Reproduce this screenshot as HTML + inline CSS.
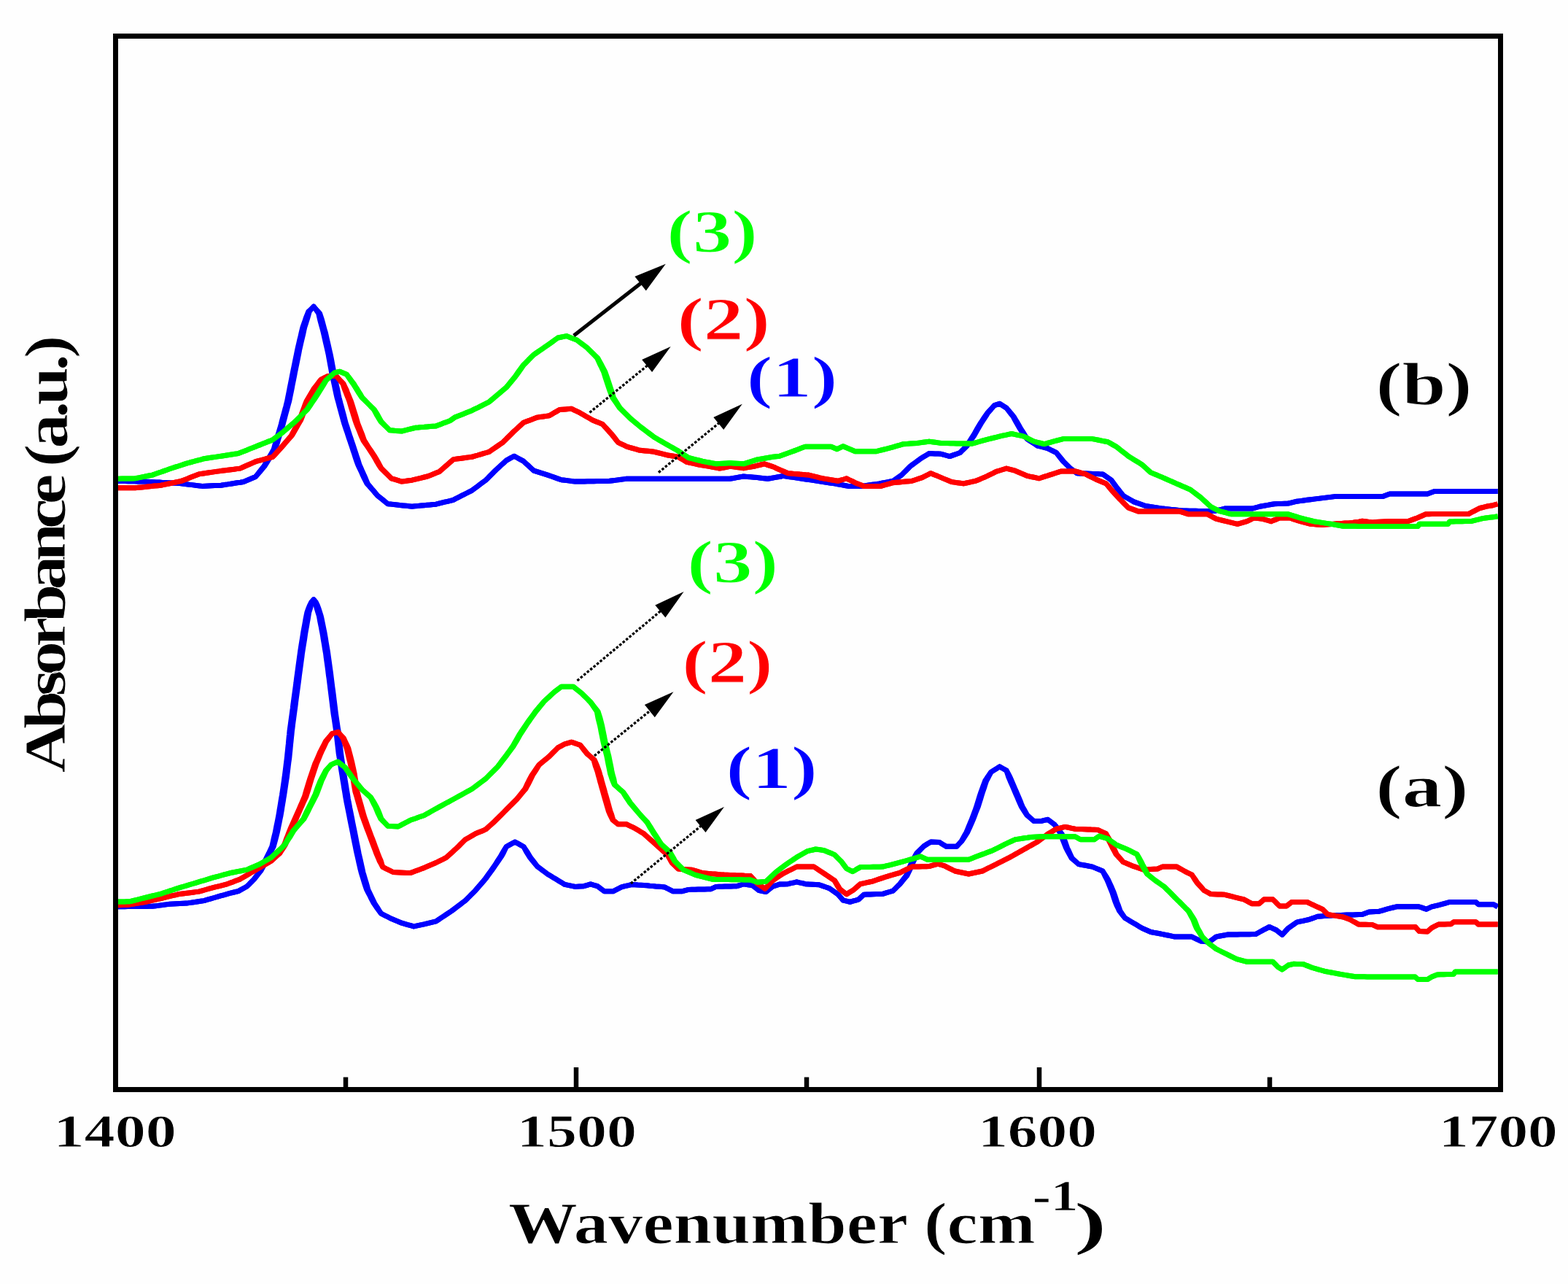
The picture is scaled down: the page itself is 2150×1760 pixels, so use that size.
<!DOCTYPE html>
<html lang="en"><head><meta charset="utf-8"><title>Absorbance vs Wavenumber</title>
<style>html,body{margin:0;padding:0;background:#fefefe}svg{display:block}</style></head>
<body>
<svg width="2150" height="1760" viewBox="0 0 2150 1760" font-family="'Liberation Serif', 'DejaVu Serif', serif" font-weight="bold">
<rect width="2150" height="1760" fill="#fefefe"/>
<clipPath id="c"><rect x="158.5" y="53" width="1895.5" height="1437"/></clipPath>
<g clip-path="url(#c)" fill="none" stroke-width="7" stroke-linejoin="round">
<g stroke="#0000ff"><polyline points="158.3,659.3 162.6,659.4 166.9,659.5 171.2,659.6 175.5,659.7 179.9,659.7 184.2,659.8 188.5,659.9 192.8,660.0 197.1,660.1 201.4,660.3 205.7,660.5 210.0,660.7 214.3,660.9 218.6,661.1 222.8,661.4 227.1,661.6 231.4,661.8 235.7,662.0 240.0,662.2 244.3,662.4 248.4,662.9 252.5,663.4 256.7,663.9 260.8,664.4 264.9,664.9 269.0,665.4 273.2,665.9 277.3,666.4 281.6,666.2 285.9,666.0 290.2,665.8 294.6,665.6 298.9,665.4 303.2,665.2 307.6,664.5 312.0,663.9 316.4,663.2 320.7,662.5 325.1,661.8 329.5,661.2 333.9,660.5 338.0,658.8 342.1,657.0 346.2,655.2 350.3,653.5 353.2,650.0 355.9,646.4 358.8,642.8 361.7,639.3 363.9,635.4 366.2,631.4 368.5,627.5 370.9,623.6 373.1,619.6 375.3,615.7 376.3,611.9 377.3,608.1 378.5,604.2 379.7,600.4 380.8,596.6 382.0,592.8 383.2,588.9 384.3,585.1 385.4,581.2 386.4,577.2 387.4,573.3 388.5,569.4 389.6,565.4 390.6,561.5 391.7,557.6 392.7,553.6 393.7,549.7 394.5,545.3 395.4,540.9 396.3,536.5 397.1,532.0 398.0,527.6 398.9,523.2 399.8,518.8 400.6,514.4 401.4,510.5 402.2,506.5 403.0,502.6 403.8,498.7 404.6,494.7 405.4,490.8 406.2,486.9 407.0,482.9 407.8,479.0 408.8,474.6 409.8,470.3 410.8,465.9 411.9,461.5 412.9,457.1 413.9,452.8 415.0,448.4 416.5,444.1 418.0,439.9 419.4,435.6 421.1,431.4 422.8,427.1 426.7,423.6 430.1,420.1 432.6,423.2 434.5,426.4 436.7,429.5 437.6,433.8 438.6,438.1 439.7,442.4 440.9,446.8 442.1,451.1 443.2,455.4 444.2,459.8 445.2,464.2 446.2,468.6 447.2,472.9 448.2,477.3 449.2,481.7 450.2,486.1 450.9,490.4 451.7,494.7 452.5,499.1 453.3,503.4 454.1,507.7 454.9,512.0 455.8,516.1 456.7,520.2 457.6,524.4 458.5,528.5 459.3,532.6 460.2,536.8 461.1,540.9 462.0,545.0 463.1,548.9 464.2,552.9 465.2,556.8 466.3,560.7 467.4,564.7 468.4,568.6 469.5,572.5 470.6,576.5 471.7,580.4 473.0,584.4 474.4,588.5 475.8,592.5 477.1,596.6 478.4,600.6 479.8,604.7 481.1,608.7 482.5,612.7 483.8,616.8 485.2,620.8 486.5,624.9 487.8,628.9 489.2,633.0 490.7,637.0 492.4,640.7 494.2,644.4 495.9,648.1 497.5,651.8 499.2,655.5 501.1,659.2 503.0,662.9 506.0,666.2 508.9,669.5 511.8,672.8 514.7,676.1 517.6,679.4 521.2,682.2 524.7,685.0 528.3,687.9 531.9,690.7 536.0,691.1 540.1,691.6 544.3,692.0 548.4,692.5 552.5,692.9 556.6,693.3 560.8,693.8 564.9,694.2 569.0,693.8 573.1,693.5 577.3,693.1 581.4,692.7 585.5,692.3 589.6,692.0 593.8,691.6 597.9,691.2 601.8,690.2 605.8,689.2 609.7,688.2 613.6,687.3 617.6,686.3 621.5,685.3 625.1,683.4 628.8,681.6 632.5,679.7 636.1,677.9 639.8,676.0 643.4,674.2 647.1,672.3 650.8,669.5 654.6,666.7 658.4,663.8 662.1,661.0 665.9,658.2 668.7,655.4 671.5,652.5 674.3,649.7 677.2,646.8 680.0,644.0 683.5,640.8 687.1,637.5 690.7,634.3 694.2,631.1 697.8,629.1 701.4,627.2 704.9,625.2 709.2,627.5 713.5,629.9 717.8,632.2 721.3,635.5 724.8,638.7 728.4,642.0 732.0,645.2 736.7,646.7 741.4,648.2 746.2,649.6 750.9,651.1 755.6,652.8 760.3,654.4 765.0,656.1 769.7,657.7 774.4,658.3 779.1,658.9 783.9,659.5 788.6,660.1 792.9,660.0 797.2,660.0 801.4,659.9 805.7,659.8 810.0,659.7 814.3,659.7 818.6,659.6 822.9,659.5 827.1,659.4 831.4,659.4 835.7,659.3 840.4,658.7 845.1,658.1 849.9,657.5 854.6,656.9 859.3,656.3 863.3,656.3 867.4,656.3 871.4,656.3 875.5,656.3 879.5,656.3 883.6,656.3 887.6,656.3 891.6,656.3 895.7,656.3 899.7,656.3 903.8,656.3 907.8,656.3 911.9,656.3 915.9,656.3 919.9,656.3 924.0,656.3 928.0,656.3 932.1,656.3 936.1,656.3 940.2,656.3 944.2,656.3 948.2,656.3 952.3,656.3 956.3,656.3 960.4,656.3 964.4,656.3 968.5,656.3 972.5,656.3 976.5,656.3 980.6,656.3 984.6,656.3 988.7,656.3 992.7,656.3 996.8,656.3 1000.8,656.3 1005.5,655.5 1010.2,654.6 1014.9,653.8 1019.6,653.0 1024.3,653.4 1029.0,653.8 1033.8,654.2 1038.5,654.6 1043.2,655.2 1047.9,655.7 1052.6,656.3 1057.3,655.5 1062.0,654.6 1066.8,653.8 1071.5,653.0 1073.6,652.3 1078.3,653.0 1083.0,653.7 1087.7,654.4 1092.4,655.1 1097.1,655.8 1101.8,656.5 1106.5,657.2 1111.3,657.9 1116.0,658.6 1120.7,659.3 1125.4,660.0 1130.1,660.7 1134.9,661.5 1139.6,662.2 1144.3,662.9 1149.0,663.8 1153.7,664.6 1158.5,665.5 1163.2,666.4 1167.9,666.4 1172.6,666.4 1177.3,666.4 1182.0,666.4 1186.7,665.7 1191.4,665.0 1196.2,664.3 1200.9,663.6 1205.6,662.9 1210.3,662.0 1215.0,661.1 1219.7,660.2 1224.4,659.3 1228.3,656.6 1232.2,653.8 1236.1,651.1 1239.0,648.1 1241.9,645.2 1244.9,642.2 1247.9,639.3 1251.4,636.6 1255.0,634.0 1258.6,631.4 1262.1,628.7 1266.1,626.3 1270.1,624.0 1274.0,621.6 1278.1,621.8 1282.2,622.0 1286.4,622.1 1290.5,622.3 1294.4,623.4 1298.3,624.5 1302.2,625.6 1306.9,623.9 1311.7,622.2 1316.4,620.5 1319.4,617.3 1322.4,614.2 1325.4,611.0 1327.7,607.5 1329.9,604.0 1332.2,600.4 1334.5,596.9 1336.9,592.8 1339.2,588.6 1341.6,584.5 1344.0,580.4 1346.4,576.9 1348.8,573.3 1351.2,569.8 1353.7,566.2 1356.9,562.7 1360.3,559.1 1363.5,555.6 1370.6,553.3 1375.3,556.2 1379.9,559.2 1382.9,563.1 1385.9,567.0 1389.0,570.9 1391.2,575.0 1393.4,579.1 1395.8,583.3 1398.2,587.4 1400.6,591.0 1403.0,594.5 1405.6,598.0 1408.1,601.6 1411.7,604.0 1415.4,606.3 1418.9,608.6 1422.5,611.0 1427.2,612.2 1431.9,613.4 1436.6,614.6 1440.5,616.6 1444.4,618.5 1448.3,620.5 1451.3,624.4 1454.3,628.3 1457.5,632.2 1460.7,635.4 1464.0,638.5 1467.2,641.7 1472.0,645.2 1476.7,648.7 1481.1,648.9 1485.5,649.0 1489.9,649.1 1494.3,649.3 1498.8,649.5 1503.2,649.6 1507.6,649.8 1512.0,649.9 1515.9,652.7 1519.7,655.4 1523.6,658.2 1526.9,662.9 1530.2,667.6 1533.3,671.5 1536.7,675.5 1539.9,679.4 1543.5,681.5 1547.1,683.5 1550.7,685.5 1554.2,687.6 1558.3,689.1 1562.4,690.5 1566.6,692.0 1570.7,693.5 1575.4,694.2 1580.1,694.9 1584.9,695.7 1589.6,696.4 1594.3,697.1 1598.3,697.5 1602.4,698.0 1606.4,698.4 1610.5,698.8 1614.5,699.2 1618.6,699.7 1622.6,700.1 1626.8,700.1 1631.1,700.2 1635.3,700.2 1639.6,700.3 1643.8,700.4 1648.0,700.4 1652.3,700.5 1656.5,700.5 1660.8,700.6 1665.0,700.6 1669.7,699.4 1674.5,698.3 1679.2,697.1 1683.4,697.1 1687.6,697.1 1691.8,697.1 1696.0,697.1 1700.1,697.1 1704.3,697.1 1708.5,697.1 1712.7,697.1 1716.9,697.1 1720.8,696.1 1724.8,695.0 1728.7,694.0 1733.4,693.2 1738.1,692.4 1742.8,691.5 1747.5,690.7 1752.2,690.5 1756.9,690.4 1761.7,690.2 1766.4,690.0 1770.3,689.1 1774.3,688.1 1778.2,687.2 1782.9,686.6 1787.6,686.0 1792.3,685.3 1797.0,684.7 1801.7,684.1 1805.7,683.6 1809.8,683.1 1813.8,682.6 1817.9,682.1 1821.9,681.6 1826.0,681.1 1830.0,680.6 1834.1,680.6 1838.2,680.6 1842.4,680.6 1846.5,680.6 1850.6,680.6 1854.8,680.6 1858.9,680.6 1863.0,680.6 1867.1,680.6 1871.2,680.6 1875.4,680.6 1879.5,680.6 1883.6,680.6 1887.8,680.6 1891.9,680.6 1896.0,680.6 1900.7,678.8 1905.5,677.0 1909.8,677.0 1914.1,677.0 1918.5,677.0 1922.8,677.0 1927.1,677.0 1931.4,677.0 1935.7,677.0 1940.0,677.0 1944.3,677.0 1948.7,677.0 1953.0,677.0 1957.3,677.0 1962.0,675.2 1966.8,673.5 1970.9,673.5 1975.1,673.5 1979.2,673.5 1983.3,673.5 1987.5,673.5 1991.6,673.5 1995.7,673.5 1999.9,673.5 2004.0,673.5 2008.1,673.5 2012.3,673.5 2016.4,673.5 2020.5,673.5 2024.7,673.5 2028.8,673.5 2032.9,673.5 2037.1,673.5 2041.2,673.5 2045.3,673.5 2049.5,673.5 2053.6,673.5"/><polyline points="158.3,659.3 162.6,659.4 166.9,659.5 171.2,659.6 175.5,659.7 179.9,659.7 184.2,659.8 188.5,659.9 192.8,660.0 197.1,660.1 201.4,660.3 205.7,660.5 210.0,660.7 214.3,660.9 218.6,661.1 222.8,661.4 227.1,661.6 231.4,661.8 235.7,662.0 240.0,662.2 244.3,662.4 248.4,662.9 252.6,663.4 256.7,663.9 260.8,664.4 264.9,664.9 269.1,665.4 273.2,665.9 277.3,666.4 281.6,666.2 285.9,666.0 290.3,665.8 294.6,665.6 298.9,665.4 303.2,665.2 307.6,664.5 312.0,663.9 316.4,663.2 320.7,662.5 325.1,661.8 329.5,661.2 333.9,660.5 338.0,658.8 342.2,657.0 346.3,655.2 350.5,653.5 353.5,650.0 356.7,646.4 359.7,642.8 362.7,639.3 365.2,635.4 367.6,631.4 370.0,627.5 372.3,623.6 374.8,619.6 377.3,615.7 378.6,611.9 380.0,608.1 381.2,604.2 382.3,600.4 383.5,596.6 384.7,592.8 385.9,588.9 387.1,585.1 388.2,581.2 389.2,577.2 390.3,573.3 391.3,569.4 392.4,565.4 393.5,561.5 394.5,557.6 395.6,553.6 396.7,549.7 397.6,545.3 398.5,540.9 399.4,536.5 400.3,532.0 401.1,527.6 402.0,523.2 402.9,518.8 403.8,514.4 404.5,510.5 405.3,506.5 406.1,502.6 406.9,498.7 407.7,494.7 408.5,490.8 409.3,486.9 410.1,482.9 410.8,479.0 411.8,474.6 412.8,470.3 413.8,465.9 414.9,461.5 415.9,457.1 416.8,452.8 417.8,448.4 419.2,444.1 420.5,439.9 421.9,435.6 423.1,431.4 424.2,427.1 426.9,423.6 430.1,420.1 432.6,423.2 435.7,426.4 438.5,429.5 440.0,433.8 441.4,438.1 442.6,442.4 443.7,446.8 444.9,451.1 446.2,455.4 447.2,459.8 448.2,464.2 449.2,468.6 450.2,472.9 451.2,477.3 452.2,481.7 453.2,486.1 454.1,490.4 454.9,494.7 455.7,499.1 456.5,503.4 457.3,507.7 458.1,512.0 458.9,516.1 459.8,520.2 460.7,524.4 461.5,528.5 462.4,532.6 463.3,536.8 464.1,540.9 465.0,545.0 466.0,548.9 467.0,552.9 468.1,556.8 469.1,560.7 470.2,564.7 471.3,568.6 472.3,572.5 473.3,576.5 474.3,580.4 475.7,584.4 477.0,588.5 478.3,592.5 479.6,596.6 481.0,600.6 482.3,604.7 483.7,608.7 485.0,612.7 486.4,616.8 487.7,620.8 489.0,624.9 490.4,628.9 491.7,633.0 492.9,637.0 494.6,640.7 496.2,644.4 497.9,648.1 499.5,651.8 501.2,655.5 502.7,659.2 504.2,662.9 506.9,666.2 509.6,669.5 512.5,672.8 515.2,676.1 518.0,679.4 521.5,682.2 525.0,685.0 528.4,687.9 531.9,690.7 536.0,691.1 540.2,691.6 544.3,692.0 548.4,692.5 552.5,692.9 556.7,693.3 560.8,693.8 564.9,694.2 569.0,693.8 573.2,693.5 577.3,693.1 581.4,692.7 585.5,692.3 589.7,692.0 593.8,691.6 597.9,691.2 601.8,690.2 605.8,689.2 609.7,688.2 613.6,687.3 617.6,686.3 621.5,685.3 625.2,683.4 628.8,681.6 632.5,679.7 636.1,677.9 639.8,676.0 643.5,674.2 647.1,672.3 650.9,669.5 654.7,666.7 658.5,663.8 662.3,661.0 666.1,658.2 669.0,655.4 671.9,652.5 674.7,649.7 677.6,646.8 680.4,644.0 683.9,640.8 687.4,637.5 690.9,634.3 694.4,631.1 697.9,629.1 701.4,627.2 704.9,625.2 709.2,627.5 713.6,629.9 718.0,632.2 721.5,635.5 725.1,638.7 728.5,642.0 732.0,645.2 736.7,646.7 741.5,648.2 746.2,649.6 750.9,651.1 755.6,652.8 760.3,654.4 765.0,656.1 769.7,657.7 774.4,658.3 779.2,658.9 783.9,659.5 788.6,660.1 792.9,660.0 797.2,660.0 801.4,659.9 805.7,659.8 810.0,659.7 814.3,659.7 818.6,659.6 822.9,659.5 827.1,659.4 831.4,659.4 835.7,659.3 840.4,658.7 845.1,658.1 849.9,657.5 854.6,656.9 859.3,656.3 863.3,656.3 867.4,656.3 871.4,656.3 875.5,656.3 879.5,656.3 883.6,656.3 887.6,656.3 891.6,656.3 895.7,656.3 899.7,656.3 903.8,656.3 907.8,656.3 911.9,656.3 915.9,656.3 919.9,656.3 924.0,656.3 928.0,656.3 932.1,656.3 936.1,656.3 940.2,656.3 944.2,656.3 948.2,656.3 952.3,656.3 956.3,656.3 960.4,656.3 964.4,656.3 968.5,656.3 972.5,656.3 976.5,656.3 980.6,656.3 984.6,656.3 988.7,656.3 992.7,656.3 996.8,656.3 1000.8,656.3 1005.5,655.5 1010.2,654.6 1014.9,653.8 1019.6,653.0 1024.3,653.4 1029.1,653.8 1033.8,654.2 1038.5,654.6 1043.2,655.2 1047.9,655.7 1052.6,656.3 1057.3,655.5 1062.1,654.6 1066.8,653.8 1071.5,653.0 1073.6,652.3 1078.3,653.0 1083.0,653.7 1087.7,654.4 1092.4,655.1 1097.1,655.8 1101.8,656.5 1106.5,657.2 1111.3,657.9 1116.0,658.6 1120.7,659.3 1125.4,660.0 1130.1,660.7 1134.9,661.5 1139.6,662.2 1144.3,662.9 1149.0,663.8 1153.8,664.6 1158.5,665.5 1163.2,666.4 1167.9,666.4 1172.6,666.4 1177.3,666.4 1182.0,666.4 1186.7,665.7 1191.4,665.0 1196.2,664.3 1200.9,663.6 1205.6,662.9 1210.3,662.0 1215.0,661.1 1219.7,660.2 1224.4,659.3 1228.4,656.6 1232.4,653.8 1236.3,651.1 1239.3,648.1 1242.3,645.2 1245.2,642.2 1248.1,639.3 1251.7,636.6 1255.2,634.0 1258.7,631.4 1262.3,628.7 1266.2,626.3 1270.1,624.0 1274.0,621.6 1278.1,621.8 1282.3,622.0 1286.4,622.1 1290.5,622.3 1294.4,623.4 1298.3,624.5 1302.2,625.6 1306.9,623.9 1311.7,622.2 1316.4,620.5 1319.6,617.3 1323.0,614.2 1326.2,611.0 1328.6,607.5 1331.1,604.0 1333.5,600.4 1335.9,596.9 1338.3,592.8 1340.7,588.6 1343.0,584.5 1345.4,580.4 1347.7,576.9 1350.0,573.3 1352.3,569.8 1354.5,566.2 1357.6,562.7 1360.5,559.1 1363.5,555.6 1370.6,553.3 1375.3,556.2 1380.1,559.2 1383.4,563.1 1386.8,567.0 1390.0,570.9 1392.5,575.0 1395.0,579.1 1397.3,583.3 1399.6,587.4 1401.9,591.0 1404.2,594.5 1406.3,598.0 1408.5,601.6 1412.0,604.0 1415.4,606.3 1419.0,608.6 1422.5,611.0 1427.2,612.2 1431.9,613.4 1436.6,614.6 1440.5,616.6 1444.5,618.5 1448.5,620.5 1451.8,624.4 1455.0,628.3 1458.1,632.2 1461.2,635.4 1464.3,638.5 1467.4,641.7 1472.0,645.2 1476.7,648.7 1481.1,648.9 1485.5,649.0 1489.9,649.1 1494.4,649.3 1498.8,649.5 1503.2,649.6 1507.6,649.8 1512.0,649.9 1516.0,652.7 1520.0,655.4 1524.0,658.2 1527.5,662.9 1531.0,667.6 1534.2,671.5 1537.2,675.5 1540.3,679.4 1543.7,681.5 1547.2,683.5 1550.7,685.5 1554.2,687.6 1558.3,689.1 1562.5,690.5 1566.6,692.0 1570.7,693.5 1575.4,694.2 1580.1,694.9 1584.9,695.7 1589.6,696.4 1594.3,697.1 1598.3,697.5 1602.4,698.0 1606.4,698.4 1610.5,698.8 1614.5,699.2 1618.6,699.7 1622.6,700.1 1626.8,700.1 1631.1,700.2 1635.3,700.2 1639.6,700.3 1643.8,700.4 1648.0,700.4 1652.3,700.5 1656.5,700.5 1660.8,700.6 1665.0,700.6 1669.7,699.4 1674.5,698.3 1679.2,697.1 1683.4,697.1 1687.6,697.1 1691.8,697.1 1696.0,697.1 1700.1,697.1 1704.3,697.1 1708.5,697.1 1712.7,697.1 1716.9,697.1 1720.8,696.1 1724.8,695.0 1728.7,694.0 1733.4,693.2 1738.1,692.4 1742.8,691.5 1747.5,690.7 1752.2,690.5 1757.0,690.4 1761.7,690.2 1766.4,690.0 1770.3,689.1 1774.3,688.1 1778.2,687.2 1782.9,686.6 1787.6,686.0 1792.3,685.3 1797.0,684.7 1801.7,684.1 1805.7,683.6 1809.8,683.1 1813.8,682.6 1817.9,682.1 1821.9,681.6 1826.0,681.1 1830.0,680.6 1834.1,680.6 1838.2,680.6 1842.4,680.6 1846.5,680.6 1850.6,680.6 1854.8,680.6 1858.9,680.6 1863.0,680.6 1867.1,680.6 1871.2,680.6 1875.4,680.6 1879.5,680.6 1883.6,680.6 1887.8,680.6 1891.9,680.6 1896.0,680.6 1900.8,678.8 1905.5,677.0 1909.8,677.0 1914.1,677.0 1918.5,677.0 1922.8,677.0 1927.1,677.0 1931.4,677.0 1935.7,677.0 1940.0,677.0 1944.3,677.0 1948.7,677.0 1953.0,677.0 1957.3,677.0 1962.1,675.2 1966.8,673.5 1970.9,673.5 1975.1,673.5 1979.2,673.5 1983.3,673.5 1987.5,673.5 1991.6,673.5 1995.7,673.5 1999.9,673.5 2004.0,673.5 2008.1,673.5 2012.3,673.5 2016.4,673.5 2020.5,673.5 2024.7,673.5 2028.8,673.5 2032.9,673.5 2037.1,673.5 2041.2,673.5 2045.3,673.5 2049.5,673.5 2053.6,673.5"/></g>
<g stroke="#ff0000"><polyline points="158.3,668.8 162.8,668.8 167.3,668.8 171.9,668.8 176.4,668.8 180.9,668.8 185.4,668.8 189.8,668.3 194.2,667.9 198.6,667.5 203.0,667.0 207.5,666.5 211.9,666.1 216.3,665.7 220.7,665.2 224.7,664.4 228.8,663.5 232.8,662.7 236.9,661.8 240.9,661.0 245.0,660.1 249.0,659.3 252.9,657.7 256.9,656.2 260.8,654.6 264.7,653.0 268.7,651.5 272.6,649.9 277.3,649.2 282.0,648.5 286.8,647.8 291.5,647.1 296.2,646.4 300.3,645.9 304.4,645.3 308.6,644.8 312.7,644.2 316.8,643.7 320.9,643.2 325.1,642.6 329.2,642.1 333.4,640.2 337.7,638.3 341.9,636.5 346.2,634.6 350.4,632.7 354.3,631.6 358.3,630.6 362.2,629.5 366.1,628.4 370.1,627.4 374.0,626.3 376.8,623.1 379.6,619.8 382.5,616.6 385.4,613.4 388.2,610.1 391.0,606.8 393.9,603.5 396.6,600.2 399.4,596.9 401.2,593.4 403.1,589.8 405.0,586.3 407.0,582.8 408.8,579.2 410.7,575.7 412.2,571.4 413.6,567.0 415.2,562.7 416.8,558.4 418.4,554.0 420.1,549.7 422.6,545.6 425.0,541.5 427.5,537.3 429.9,533.2 432.3,530.0 434.8,526.8 437.4,523.5 439.9,520.3 444.7,517.9 449.4,515.5 455.3,515.5 461.2,515.5 464.3,519.1 467.0,522.6 470.0,526.2 471.3,530.1 472.6,534.0 474.2,538.0 475.7,541.9 477.3,545.8 478.8,549.7 479.9,553.5 481.0,557.4 482.2,561.2 483.4,565.0 484.6,568.9 485.8,572.7 487.0,576.6 488.3,580.4 489.9,584.3 491.5,588.3 493.1,592.2 494.6,596.1 496.3,600.1 498.1,604.0 500.5,607.5 503.0,611.1 505.4,614.6 507.7,618.1 510.0,621.7 512.3,625.2 514.7,629.3 517.0,633.5 519.5,637.6 522.1,641.7 525.7,645.2 529.3,648.8 533.0,652.3 536.6,655.8 541.3,657.2 546.1,658.7 550.8,660.1 555.5,659.5 560.2,658.8 564.9,658.2 569.1,657.2 573.4,656.1 577.6,655.1 581.9,654.0 586.1,653.0 590.2,651.4 594.3,649.7 598.5,648.0 602.6,646.4 605.7,643.6 608.8,640.9 611.9,638.1 615.1,635.4 618.3,632.6 621.5,629.9 623.6,629.4 628.3,628.8 633.0,628.2 637.7,627.5 642.4,626.9 647.1,626.3 651.0,625.1 655.0,624.0 658.9,622.8 662.8,621.6 666.8,620.5 670.7,619.3 674.5,616.7 678.2,614.1 682.0,611.5 685.7,608.9 689.5,606.3 693.0,602.8 696.4,599.2 700.0,595.7 703.5,592.2 707.1,589.0 710.6,585.7 714.3,582.5 717.9,579.2 721.6,577.8 725.4,576.4 729.2,574.9 732.9,573.5 736.7,572.1 740.8,571.5 744.9,571.0 749.1,570.4 753.2,569.8 756.7,567.7 760.3,565.6 763.8,563.6 767.4,561.5 771.5,561.2 775.6,560.9 779.8,560.6 783.9,560.3 787.8,562.3 791.7,564.2 795.7,566.2 799.8,568.6 803.9,571.0 808.1,573.3 812.2,575.7 816.9,577.7 821.6,579.6 826.2,581.6 829.1,584.8 831.9,588.0 834.8,591.3 837.8,594.5 840.9,598.4 844.1,602.4 847.4,606.3 851.4,608.3 855.4,610.2 859.3,612.2 863.4,613.4 867.5,614.5 871.7,615.7 875.8,616.9 880.0,617.4 884.3,617.9 888.5,618.3 892.8,618.8 897.0,619.3 901.7,620.5 906.4,621.6 911.2,622.8 915.9,624.0 920.6,624.8 925.3,625.5 930.0,626.3 933.9,628.7 937.9,631.0 941.8,633.4 945.9,634.3 950.0,635.2 954.2,636.1 958.3,637.0 963.0,637.8 967.8,638.5 972.5,639.3 977.2,640.2 981.9,641.2 986.6,642.1 991.3,641.2 996.1,640.2 1000.8,639.3 1005.5,639.9 1010.2,640.5 1014.9,641.1 1019.6,641.7 1024.3,640.9 1029.1,640.1 1033.8,639.3 1038.5,638.1 1043.2,637.0 1047.9,635.8 1052.6,637.4 1057.3,638.9 1062.0,640.5 1064.1,641.7 1068.2,643.5 1072.3,645.2 1076.5,647.0 1080.6,648.7 1084.6,649.0 1088.7,649.4 1092.7,649.7 1096.8,650.1 1100.8,650.4 1104.9,650.8 1108.9,651.1 1113.0,652.1 1117.1,653.2 1121.3,654.2 1125.4,655.3 1130.1,656.1 1134.8,656.9 1139.6,657.7 1144.3,658.5 1149.0,659.3 1152.9,658.1 1156.9,657.0 1160.8,655.8 1164.7,657.8 1168.7,659.7 1172.6,661.7 1176.5,663.3 1180.5,664.8 1184.4,666.4 1189.1,666.4 1193.8,666.4 1198.5,666.4 1203.2,666.4 1207.9,666.4 1212.0,665.2 1216.1,664.0 1220.3,662.9 1224.4,661.7 1228.7,661.3 1233.1,660.9 1237.4,660.5 1241.7,660.1 1246.1,659.7 1250.4,659.3 1255.1,657.7 1259.8,656.2 1264.5,654.6 1268.4,652.6 1272.4,650.7 1276.3,648.7 1281.0,650.7 1285.8,652.6 1290.5,654.6 1295.2,656.6 1299.9,658.5 1304.6,660.5 1308.7,661.1 1312.8,661.7 1317.0,662.3 1321.1,662.9 1325.2,662.0 1329.3,661.1 1333.5,660.2 1337.6,659.3 1342.3,657.4 1347.0,655.4 1351.7,653.5 1356.4,651.1 1361.2,648.8 1365.9,646.4 1370.6,645.0 1375.3,643.5 1380.0,642.1 1383.9,643.1 1387.9,644.2 1391.8,645.2 1395.9,647.0 1400.0,648.8 1404.2,650.5 1408.3,652.3 1412.4,653.2 1416.5,654.0 1420.7,654.9 1424.8,655.8 1429.5,654.2 1434.3,652.7 1439.0,651.1 1443.1,649.8 1447.2,648.5 1451.4,647.2 1455.5,645.9 1460.2,645.9 1464.9,645.9 1469.6,645.9 1474.3,645.9 1479.0,647.2 1483.8,648.6 1488.5,649.9 1493.2,652.3 1497.9,654.6 1502.6,657.0 1507.3,659.0 1512.0,660.9 1516.7,662.9 1520.0,667.0 1523.3,671.1 1526.2,674.4 1529.2,677.6 1532.2,680.9 1535.1,684.1 1538.1,687.0 1541.0,690.0 1544.1,693.0 1547.1,695.9 1551.8,697.6 1556.6,699.4 1561.3,701.1 1565.3,701.1 1569.4,701.1 1573.4,701.1 1577.5,701.1 1581.5,701.1 1585.6,701.1 1589.6,701.1 1593.6,701.1 1597.7,701.1 1601.7,701.1 1605.8,701.1 1609.8,701.1 1613.9,701.1 1617.9,701.1 1621.8,702.3 1625.8,703.6 1629.7,704.8 1634.0,704.8 1638.3,704.8 1642.7,704.8 1647.0,704.8 1651.3,704.8 1655.6,704.8 1659.5,706.9 1663.5,709.1 1667.4,711.2 1672.1,712.4 1676.8,713.5 1681.5,714.7 1686.6,715.9 1691.7,717.1 1696.8,718.3 1701.1,717.1 1705.5,715.9 1709.8,714.7 1714.5,712.4 1719.2,710.0 1725.1,710.6 1731.0,711.2 1734.9,712.4 1738.9,713.5 1742.8,714.7 1746.7,713.1 1750.7,711.6 1754.6,710.0 1759.3,710.0 1764.0,710.0 1768.7,710.0 1773.4,711.6 1778.2,713.1 1782.9,714.7 1787.6,715.9 1792.3,717.1 1797.0,718.3 1801.1,718.6 1805.2,718.9 1809.4,719.2 1813.5,719.5 1817.7,719.1 1822.0,718.7 1826.2,718.4 1830.5,718.0 1834.7,717.6 1839.4,717.4 1844.1,717.1 1848.9,716.9 1853.6,716.6 1858.3,715.8 1863.1,715.1 1867.8,714.3 1872.5,714.8 1877.2,715.4 1881.9,715.9 1886.6,715.6 1891.3,715.3 1896.1,715.0 1900.8,714.7 1905.2,714.6 1909.5,714.6 1913.9,714.5 1918.3,714.5 1922.7,714.4 1927.0,714.4 1931.4,714.3 1935.3,712.9 1939.3,711.4 1943.2,710.0 1947.1,708.3 1951.1,706.5 1955.0,704.8 1959.3,704.7 1963.5,704.6 1967.8,704.6 1972.0,704.5 1976.3,704.4 1980.5,704.4 1984.7,704.4 1988.9,704.4 1993.1,704.4 1997.2,704.4 2001.4,704.4 2005.6,704.4 2009.8,704.4 2014.0,704.4 2017.8,702.3 2021.6,700.3 2025.3,698.4 2029.1,696.5 2034.7,695.1 2040.4,693.7 2047.0,692.7 2053.6,690.8"/><polyline points="158.3,668.8 162.8,668.8 167.3,668.8 171.9,668.8 176.4,668.8 180.9,668.8 185.4,668.8 189.8,668.3 194.2,667.9 198.6,667.5 203.1,667.0 207.5,666.5 211.9,666.1 216.3,665.7 220.7,665.2 224.7,664.4 228.8,663.5 232.8,662.7 236.9,661.8 240.9,661.0 245.0,660.1 249.0,659.3 252.9,657.7 256.9,656.2 260.8,654.6 264.7,653.0 268.7,651.5 272.6,649.9 277.3,649.2 282.0,648.5 286.8,647.8 291.5,647.1 296.2,646.4 300.3,645.9 304.5,645.3 308.6,644.8 312.7,644.2 316.8,643.7 321.0,643.2 325.1,642.6 329.2,642.1 333.4,640.2 337.7,638.3 341.9,636.5 346.2,634.6 350.4,632.7 354.3,631.6 358.3,630.6 362.2,629.5 366.1,628.4 370.1,627.4 374.0,626.3 377.1,623.1 380.1,619.8 383.1,616.6 386.0,613.4 388.9,610.1 391.7,606.8 394.6,603.5 397.5,600.2 400.4,596.9 402.5,593.4 404.6,589.8 406.6,586.3 408.5,582.8 410.6,579.2 412.7,575.7 414.4,571.4 416.0,567.0 417.6,562.7 419.2,558.4 420.6,554.0 422.1,549.7 424.3,545.6 426.6,541.5 428.8,537.3 431.1,533.2 433.4,530.0 435.7,526.8 437.9,523.5 440.1,520.3 444.7,517.9 449.4,515.5 455.3,515.5 461.2,515.5 464.4,519.1 467.9,522.6 471.2,526.2 473.0,530.1 474.9,534.0 476.4,538.0 478.0,541.9 479.6,545.8 481.2,549.7 482.5,553.5 483.7,557.4 484.9,561.2 486.1,565.0 487.3,568.9 488.5,572.7 489.6,576.6 490.7,580.4 492.2,584.3 493.8,588.3 495.3,592.2 496.9,596.1 498.3,600.1 499.7,604.0 502.0,607.5 504.2,611.1 506.5,614.6 508.9,618.1 511.3,621.7 513.7,625.2 516.1,629.3 518.5,633.5 520.7,637.6 522.9,641.7 526.3,645.2 529.8,648.8 533.2,652.3 536.6,655.8 541.3,657.2 546.1,658.7 550.8,660.1 555.5,659.5 560.2,658.8 564.9,658.2 569.1,657.2 573.4,656.1 577.6,655.1 581.9,654.0 586.1,653.0 590.2,651.4 594.4,649.7 598.5,648.0 602.6,646.4 605.8,643.6 609.0,640.9 612.2,638.1 615.3,635.4 618.4,632.6 621.5,629.9 623.6,629.4 628.3,628.8 633.0,628.2 637.7,627.5 642.4,626.9 647.1,626.3 651.0,625.1 655.0,624.0 658.9,622.8 662.8,621.6 666.8,620.5 670.7,619.3 674.5,616.7 678.3,614.1 682.1,611.5 685.9,608.9 689.7,606.3 693.3,602.8 696.9,599.2 700.4,595.7 703.9,592.2 707.4,589.0 711.0,585.7 714.4,582.5 717.9,579.2 721.7,577.8 725.4,576.4 729.2,574.9 732.9,573.5 736.7,572.1 740.8,571.5 745.0,571.0 749.1,570.4 753.2,569.8 756.8,567.7 760.3,565.6 763.9,563.6 767.4,561.5 771.5,561.2 775.7,560.9 779.8,560.6 783.9,560.3 787.8,562.3 791.8,564.2 795.7,566.2 799.8,568.6 804.0,571.0 808.1,573.3 812.2,575.7 816.9,577.7 821.6,579.6 826.4,581.6 829.4,584.8 832.5,588.0 835.5,591.3 838.4,594.5 841.6,598.4 844.6,602.4 847.6,606.3 851.5,608.3 855.4,610.2 859.3,612.2 863.4,613.4 867.6,614.5 871.7,615.7 875.8,616.9 880.0,617.4 884.3,617.9 888.5,618.3 892.8,618.8 897.0,619.3 901.7,620.5 906.5,621.6 911.2,622.8 915.9,624.0 920.6,624.8 925.3,625.5 930.0,626.3 933.9,628.7 937.9,631.0 941.8,633.4 945.9,634.3 950.1,635.2 954.2,636.1 958.3,637.0 963.0,637.8 967.8,638.5 972.5,639.3 977.2,640.2 981.9,641.2 986.6,642.1 991.3,641.2 996.1,640.2 1000.8,639.3 1005.5,639.9 1010.2,640.5 1014.9,641.1 1019.6,641.7 1024.3,640.9 1029.1,640.1 1033.8,639.3 1038.5,638.1 1043.2,637.0 1047.9,635.8 1052.6,637.4 1057.3,638.9 1062.0,640.5 1064.1,641.7 1068.2,643.5 1072.4,645.2 1076.5,647.0 1080.6,648.7 1084.6,649.0 1088.7,649.4 1092.7,649.7 1096.8,650.1 1100.8,650.4 1104.9,650.8 1108.9,651.1 1113.0,652.1 1117.2,653.2 1121.3,654.2 1125.4,655.3 1130.1,656.1 1134.8,656.9 1139.6,657.7 1144.3,658.5 1149.0,659.3 1152.9,658.1 1156.9,657.0 1160.8,655.8 1164.7,657.8 1168.7,659.7 1172.6,661.7 1176.5,663.3 1180.5,664.8 1184.4,666.4 1189.1,666.4 1193.8,666.4 1198.5,666.4 1203.2,666.4 1207.9,666.4 1212.0,665.2 1216.2,664.0 1220.3,662.9 1224.4,661.7 1228.7,661.3 1233.1,660.9 1237.4,660.5 1241.7,660.1 1246.1,659.7 1250.4,659.3 1255.1,657.7 1259.8,656.2 1264.5,654.6 1268.4,652.6 1272.4,650.7 1276.3,648.7 1281.0,650.7 1285.8,652.6 1290.5,654.6 1295.2,656.6 1299.9,658.5 1304.6,660.5 1308.7,661.1 1312.9,661.7 1317.0,662.3 1321.1,662.9 1325.2,662.0 1329.4,661.1 1333.5,660.2 1337.6,659.3 1342.3,657.4 1347.0,655.4 1351.7,653.5 1356.4,651.1 1361.2,648.8 1365.9,646.4 1370.6,645.0 1375.3,643.5 1380.0,642.1 1383.9,643.1 1387.9,644.2 1391.8,645.2 1395.9,647.0 1400.1,648.8 1404.2,650.5 1408.3,652.3 1412.4,653.2 1416.6,654.0 1420.7,654.9 1424.8,655.8 1429.5,654.2 1434.3,652.7 1439.0,651.1 1443.1,649.8 1447.3,648.5 1451.4,647.2 1455.5,645.9 1460.2,645.9 1464.9,645.9 1469.6,645.9 1474.3,645.9 1479.0,647.2 1483.8,648.6 1488.5,649.9 1493.2,652.3 1497.9,654.6 1502.6,657.0 1507.3,659.0 1512.1,660.9 1516.9,662.9 1520.4,667.0 1523.9,671.1 1526.9,674.4 1529.8,677.6 1532.7,680.9 1535.7,684.1 1538.6,687.0 1541.5,690.0 1544.3,693.0 1547.1,695.9 1551.8,697.6 1556.6,699.4 1561.3,701.1 1565.3,701.1 1569.4,701.1 1573.4,701.1 1577.5,701.1 1581.5,701.1 1585.6,701.1 1589.6,701.1 1593.6,701.1 1597.7,701.1 1601.7,701.1 1605.8,701.1 1609.8,701.1 1613.9,701.1 1617.9,701.1 1621.8,702.3 1625.8,703.6 1629.7,704.8 1634.0,704.8 1638.3,704.8 1642.7,704.8 1647.0,704.8 1651.3,704.8 1655.6,704.8 1659.5,706.9 1663.5,709.1 1667.4,711.2 1672.1,712.4 1676.8,713.5 1681.5,714.7 1686.6,715.9 1691.7,717.1 1696.8,718.3 1701.1,717.1 1705.5,715.9 1709.8,714.7 1714.5,712.4 1719.2,710.0 1725.1,710.6 1731.0,711.2 1734.9,712.4 1738.9,713.5 1742.8,714.7 1746.7,713.1 1750.7,711.6 1754.6,710.0 1759.3,710.0 1764.0,710.0 1768.7,710.0 1773.4,711.6 1778.2,713.1 1782.9,714.7 1787.6,715.9 1792.3,717.1 1797.0,718.3 1801.1,718.6 1805.3,718.9 1809.4,719.2 1813.5,719.5 1817.7,719.1 1822.0,718.7 1826.2,718.4 1830.5,718.0 1834.7,717.6 1839.4,717.4 1844.2,717.1 1848.9,716.9 1853.6,716.6 1858.3,715.8 1863.1,715.1 1867.8,714.3 1872.5,714.8 1877.2,715.4 1881.9,715.9 1886.6,715.6 1891.4,715.3 1896.1,715.0 1900.8,714.7 1905.2,714.6 1909.5,714.6 1913.9,714.5 1918.3,714.5 1922.7,714.4 1927.0,714.4 1931.4,714.3 1935.3,712.9 1939.3,711.4 1943.2,710.0 1947.1,708.3 1951.1,706.5 1955.0,704.8 1959.3,704.7 1963.5,704.6 1967.8,704.6 1972.0,704.5 1976.3,704.4 1980.5,704.4 1984.7,704.4 1988.9,704.4 1993.1,704.4 1997.2,704.4 2001.4,704.4 2005.6,704.4 2009.8,704.4 2014.0,704.4 2017.8,702.3 2021.6,700.3 2025.4,698.4 2029.1,696.5 2034.8,695.1 2040.4,693.7 2047.0,692.7 2053.6,690.8"/></g>
<g stroke="#00ff00"><polyline points="158.3,656.3 162.8,656.2 167.3,656.1 171.8,656.0 176.4,656.0 180.9,655.9 185.4,655.8 190.1,654.9 194.8,653.9 199.5,653.0 204.2,652.0 208.9,651.1 212.8,649.7 216.8,648.3 220.7,647.0 224.6,645.6 228.6,644.2 232.5,642.8 236.4,641.5 240.4,640.2 244.3,639.0 248.2,637.7 252.2,636.4 256.1,635.1 260.0,634.0 264.0,633.0 267.9,631.9 271.8,630.8 275.8,629.8 279.7,628.7 284.4,628.0 289.1,627.3 293.8,626.6 298.5,625.9 303.2,625.2 307.9,624.5 312.6,623.8 317.4,623.0 322.1,622.3 326.8,621.6 330.7,620.0 334.7,618.5 338.6,616.9 342.5,615.3 346.5,613.8 350.4,612.2 354.3,610.6 358.3,609.1 362.2,607.5 366.1,605.9 370.1,604.4 374.0,602.8 377.5,600.1 381.0,597.5 384.5,594.9 388.0,592.2 391.3,589.4 394.6,586.5 397.9,583.7 401.1,580.8 404.4,578.0 407.7,574.7 411.0,571.4 414.3,568.1 417.5,564.8 420.7,561.5 423.0,558.0 425.2,554.4 427.6,550.9 429.9,547.4 432.2,543.8 434.6,540.3 436.9,536.5 439.3,532.7 441.6,529.0 444.2,525.2 446.7,521.4 450.7,517.9 454.8,514.3 458.8,510.8 465.9,509.2 470.6,511.2 475.2,513.2 477.4,516.5 479.5,519.7 481.8,523.0 484.1,526.2 486.5,530.0 488.8,533.7 491.1,537.5 493.6,541.2 496.1,545.0 499.5,548.3 502.9,551.6 506.2,554.9 509.4,558.2 512.6,561.5 514.8,565.6 517.0,569.8 519.5,573.9 522.0,578.0 525.1,581.0 528.2,583.9 531.3,586.8 534.3,589.8 538.4,590.1 542.5,590.4 546.7,590.7 550.8,591.0 555.5,589.8 560.2,588.6 564.9,587.5 569.6,586.3 573.6,586.0 577.7,585.6 581.7,585.3 585.8,584.9 589.8,584.6 593.9,584.2 597.9,583.9 601.7,582.5 605.5,581.1 609.2,579.6 613.0,578.2 616.8,576.8 620.2,574.5 623.6,572.1 627.5,570.5 631.4,569.0 635.3,567.4 639.3,565.8 643.2,564.3 647.1,562.7 651.0,560.7 655.0,558.8 658.9,556.8 662.8,554.8 666.7,552.9 670.7,550.9 674.0,548.0 677.3,545.2 680.7,542.3 684.1,539.5 687.4,536.6 690.8,533.8 694.1,530.9 697.0,527.4 699.8,523.8 702.8,520.2 705.7,516.7 708.0,513.4 710.3,510.1 712.7,506.8 715.1,503.5 717.6,500.2 721.2,496.7 724.7,493.1 728.3,489.6 731.9,486.1 735.7,483.5 739.5,480.9 743.3,478.3 747.1,475.7 750.8,473.1 754.4,470.6 757.9,468.1 761.4,465.5 765.0,463.0 768.9,462.2 772.9,461.4 776.8,460.6 781.5,462.4 786.2,464.2 790.9,466.0 794.4,468.7 797.9,471.4 801.4,474.0 805.0,476.7 808.4,480.2 811.9,483.8 815.4,487.3 818.7,490.8 820.4,494.6 822.1,498.4 824.0,502.1 825.8,505.9 827.6,509.7 828.9,513.9 830.2,518.2 831.6,522.4 833.0,526.7 834.4,530.9 836.0,535.6 837.8,540.3 839.6,545.0 842.1,548.5 844.6,552.1 847.1,555.7 849.5,559.2 853.1,562.7 856.7,566.2 860.3,569.8 863.8,573.3 867.4,576.2 871.0,579.2 874.5,582.1 878.1,585.1 881.9,587.9 885.6,590.7 889.4,593.6 893.2,596.4 896.9,599.2 900.5,601.3 904.1,603.4 907.6,605.4 911.2,607.5 914.9,609.6 918.7,611.7 922.5,613.9 926.2,616.0 930.0,618.1 933.5,620.5 937.1,622.8 940.6,625.1 944.2,627.5 948.9,628.7 953.6,629.9 958.3,631.0 963.0,632.2 967.7,633.1 972.4,634.0 977.2,634.9 981.9,635.8 986.6,635.5 991.3,635.2 996.1,634.9 1000.8,634.6 1005.5,634.9 1010.2,635.2 1014.9,635.5 1019.6,635.8 1024.3,634.3 1029.0,632.8 1033.8,631.4 1038.5,629.9 1042.7,629.2 1047.0,628.5 1051.2,627.7 1055.5,627.0 1059.7,626.3 1064.3,625.8 1068.9,625.2 1073.0,623.7 1077.1,622.2 1081.3,620.8 1085.4,619.3 1089.2,617.9 1092.9,616.5 1096.7,615.0 1100.4,613.6 1104.2,612.2 1108.6,612.2 1113.0,612.2 1117.5,612.2 1121.9,612.2 1126.3,612.2 1130.8,612.2 1135.2,612.2 1139.6,612.2 1143.7,614.0 1147.8,615.7 1151.9,613.7 1156.1,611.7 1160.2,613.5 1164.3,615.2 1168.5,617.0 1172.6,618.8 1176.6,618.8 1180.7,618.8 1184.7,618.8 1188.8,618.8 1192.8,618.8 1196.9,618.8 1200.9,618.8 1205.6,617.6 1210.3,616.5 1215.0,615.3 1219.7,614.1 1224.4,612.8 1229.1,611.4 1233.9,610.1 1238.6,608.7 1243.3,608.4 1248.0,608.1 1252.7,607.8 1257.4,607.5 1261.5,606.9 1265.7,606.3 1269.8,605.7 1274.0,605.1 1278.1,605.7 1282.2,606.3 1286.4,606.9 1290.5,607.5 1294.7,607.6 1299.0,607.6 1303.2,607.7 1307.5,607.8 1311.7,607.9 1315.9,607.9 1320.2,608.0 1324.4,608.1 1328.7,608.1 1332.9,608.2 1337.6,606.9 1342.3,605.5 1347.0,604.1 1351.7,602.8 1356.4,601.6 1361.1,600.5 1365.9,599.3 1370.6,598.1 1374.7,597.2 1378.8,596.3 1383.0,595.4 1387.1,594.5 1391.2,595.4 1395.3,596.3 1399.5,597.2 1403.6,598.1 1408.3,600.4 1413.1,602.8 1417.8,605.1 1422.5,606.3 1427.2,607.5 1431.9,608.7 1436.0,607.5 1440.1,606.4 1444.3,605.2 1448.4,604.0 1453.1,602.8 1457.8,601.6 1461.8,601.6 1465.8,601.6 1469.8,601.6 1473.8,601.6 1477.8,601.6 1481.9,601.6 1485.9,601.6 1489.9,601.6 1493.9,601.6 1497.9,601.6 1502.1,602.4 1506.4,603.3 1510.6,604.1 1514.9,605.0 1519.1,605.8 1522.9,607.9 1526.7,610.1 1530.6,612.2 1533.8,614.8 1537.1,617.4 1540.4,620.0 1543.7,622.6 1547.0,625.2 1550.8,627.6 1554.6,629.9 1558.4,632.3 1562.2,634.6 1565.9,637.0 1569.8,640.5 1573.8,644.1 1577.8,647.6 1581.9,649.4 1586.0,651.1 1590.2,652.9 1594.3,654.6 1598.1,656.3 1601.9,657.9 1605.6,659.6 1609.4,661.2 1613.2,662.9 1617.0,664.5 1620.7,666.2 1624.5,667.8 1628.2,669.5 1632.0,671.1 1635.5,673.8 1639.0,676.4 1642.6,679.1 1646.1,681.7 1649.6,685.0 1653.1,688.2 1656.7,691.5 1660.2,694.7 1664.2,696.7 1668.2,698.6 1672.1,700.6 1676.2,701.6 1680.3,702.7 1684.5,703.8 1688.6,704.8 1692.7,704.8 1696.8,704.8 1700.9,704.8 1705.0,704.8 1709.1,704.8 1713.2,704.8 1717.3,704.8 1721.4,704.8 1725.5,704.8 1729.5,704.8 1733.6,704.8 1737.7,704.8 1741.8,704.8 1745.9,704.8 1750.0,704.8 1754.1,704.8 1758.2,704.8 1762.3,704.8 1766.4,704.8 1770.5,706.1 1774.6,707.4 1778.8,708.7 1782.9,710.0 1787.6,711.2 1792.3,712.4 1797.0,713.5 1801.7,714.7 1806.4,715.4 1811.1,716.1 1815.9,716.9 1820.6,717.6 1825.3,718.3 1829.4,719.0 1833.5,719.8 1837.7,720.5 1841.8,721.3 1845.9,721.3 1850.0,721.3 1854.1,721.3 1858.2,721.3 1862.3,721.4 1866.4,721.4 1870.5,721.4 1874.6,721.4 1878.7,721.4 1882.8,721.4 1886.9,721.4 1891.0,721.4 1895.0,721.5 1899.1,721.5 1903.2,721.5 1907.3,721.5 1911.4,721.5 1915.5,721.5 1919.6,721.5 1923.7,721.5 1927.8,721.6 1931.9,721.6 1936.0,721.6 1940.1,721.6 1944.2,721.6 1946.1,718.2 1950.5,718.2 1954.9,718.2 1959.3,718.2 1963.7,718.2 1968.1,718.2 1972.5,718.2 1976.9,718.2 1981.3,718.2 1985.7,718.2 1987.6,715.0 1991.9,714.9 1996.2,714.8 2000.5,714.7 2004.9,714.7 2009.2,714.6 2013.5,714.5 2017.8,714.4 2022.8,713.1 2027.9,711.9 2032.9,710.6 2037.0,710.0 2041.2,709.5 2045.3,708.9 2049.5,708.4 2053.6,707.8"/><polyline points="158.3,656.3 162.8,656.2 167.3,656.1 171.9,656.0 176.4,656.0 180.9,655.9 185.4,655.8 190.1,654.9 194.8,653.9 199.5,653.0 204.2,652.0 208.9,651.1 212.8,649.7 216.8,648.3 220.7,647.0 224.6,645.6 228.6,644.2 232.5,642.8 236.4,641.5 240.4,640.2 244.3,639.0 248.2,637.7 252.2,636.4 256.1,635.1 260.0,634.0 264.0,633.0 267.9,631.9 271.8,630.8 275.8,629.8 279.7,628.7 284.4,628.0 289.1,627.3 293.8,626.6 298.5,625.9 303.2,625.2 307.9,624.5 312.6,623.8 317.4,623.0 322.1,622.3 326.8,621.6 330.7,620.0 334.7,618.5 338.6,616.9 342.5,615.3 346.5,613.8 350.4,612.2 354.3,610.6 358.3,609.1 362.2,607.5 366.1,605.9 370.1,604.4 374.0,602.8 377.6,600.1 381.1,597.5 384.7,594.9 388.2,592.2 391.5,589.4 394.8,586.5 398.1,583.7 401.5,580.8 404.8,578.0 408.1,574.7 411.4,571.4 414.7,568.1 418.1,564.8 421.5,561.5 423.9,558.0 426.4,554.4 428.7,550.9 431.1,547.4 433.5,543.8 435.8,540.3 438.2,536.5 440.6,532.7 442.9,529.0 445.1,525.2 447.3,521.4 451.2,517.9 454.9,514.3 458.8,510.8 465.9,509.2 470.6,511.2 475.4,513.2 477.9,516.5 480.5,519.7 482.9,523.0 485.3,526.2 487.7,530.0 490.1,533.7 492.4,537.5 494.7,541.2 496.9,545.0 500.1,548.3 503.3,551.6 506.6,554.9 510.0,558.2 513.4,561.5 516.0,565.6 518.5,569.8 520.7,573.9 523.0,578.0 525.8,581.0 528.6,583.9 531.4,586.8 534.3,589.8 538.4,590.1 542.6,590.4 546.7,590.7 550.8,591.0 555.5,589.8 560.2,588.6 564.9,587.5 569.6,586.3 573.6,586.0 577.7,585.6 581.7,585.3 585.8,584.9 589.8,584.6 593.9,584.2 597.9,583.9 601.7,582.5 605.5,581.1 609.2,579.6 613.0,578.2 616.8,576.8 620.2,574.5 623.6,572.1 627.5,570.5 631.4,569.0 635.4,567.4 639.3,565.8 643.2,564.3 647.1,562.7 651.0,560.7 655.0,558.8 658.9,556.8 662.8,554.8 666.8,552.9 670.7,550.9 674.2,548.0 677.6,545.2 680.9,542.3 684.3,539.5 687.7,536.6 691.1,533.8 694.5,530.9 697.5,527.4 700.6,523.8 703.5,520.2 706.5,516.7 708.9,513.4 711.3,510.1 713.7,506.8 715.9,503.5 718.2,500.2 721.7,496.7 725.2,493.1 728.6,489.6 732.1,486.1 735.9,483.5 739.6,480.9 743.4,478.3 747.2,475.7 751.0,473.1 754.5,470.6 758.0,468.1 761.5,465.5 765.0,463.0 768.9,462.2 772.9,461.4 776.8,460.6 781.5,462.4 786.2,464.2 790.9,466.0 794.5,468.7 798.1,471.4 801.7,474.0 805.2,476.7 808.8,480.2 812.4,483.8 816.0,487.3 819.7,490.8 821.8,494.6 823.9,498.4 825.8,502.1 827.8,505.9 829.8,509.7 831.3,513.9 832.8,518.2 834.2,522.4 835.6,526.7 837.0,530.9 838.6,535.6 840.0,540.3 841.4,545.0 843.6,548.5 845.8,552.1 848.0,555.7 850.3,559.2 853.7,562.7 857.2,566.2 860.7,569.8 864.2,573.3 867.7,576.2 871.2,579.2 874.8,582.1 878.3,585.1 882.0,587.9 885.8,590.7 889.6,593.6 893.3,596.4 897.1,599.2 900.6,601.3 904.1,603.4 907.7,605.4 911.2,607.5 915.0,609.6 918.7,611.7 922.5,613.9 926.3,616.0 930.0,618.1 933.6,620.5 937.1,622.8 940.7,625.1 944.2,627.5 948.9,628.7 953.6,629.9 958.3,631.0 963.0,632.2 967.7,633.1 972.5,634.0 977.2,634.9 981.9,635.8 986.6,635.5 991.4,635.2 996.1,634.9 1000.8,634.6 1005.5,634.9 1010.2,635.2 1014.9,635.5 1019.6,635.8 1024.3,634.3 1029.1,632.8 1033.8,631.4 1038.5,629.9 1042.7,629.2 1047.0,628.5 1051.2,627.7 1055.5,627.0 1059.7,626.3 1064.3,625.8 1068.9,625.2 1073.0,623.7 1077.2,622.2 1081.3,620.8 1085.4,619.3 1089.2,617.9 1092.9,616.5 1096.7,615.0 1100.4,613.6 1104.2,612.2 1108.6,612.2 1113.0,612.2 1117.5,612.2 1121.9,612.2 1126.3,612.2 1130.8,612.2 1135.2,612.2 1139.6,612.2 1143.7,614.0 1147.8,615.7 1152.0,613.7 1156.1,611.7 1160.2,613.5 1164.4,615.2 1168.5,617.0 1172.6,618.8 1176.6,618.8 1180.7,618.8 1184.7,618.8 1188.8,618.8 1192.8,618.8 1196.9,618.8 1200.9,618.8 1205.6,617.6 1210.3,616.5 1215.0,615.3 1219.7,614.1 1224.4,612.8 1229.2,611.4 1233.9,610.1 1238.6,608.7 1243.3,608.4 1248.0,608.1 1252.7,607.8 1257.4,607.5 1261.6,606.9 1265.7,606.3 1269.9,605.7 1274.0,605.1 1278.1,605.7 1282.3,606.3 1286.4,606.9 1290.5,607.5 1294.7,607.6 1299.0,607.6 1303.2,607.7 1307.5,607.8 1311.7,607.9 1315.9,607.9 1320.2,608.0 1324.4,608.1 1328.7,608.1 1332.9,608.2 1337.6,606.9 1342.3,605.5 1347.0,604.1 1351.7,602.8 1356.4,601.6 1361.2,600.5 1365.9,599.3 1370.6,598.1 1374.7,597.2 1378.9,596.3 1383.0,595.4 1387.1,594.5 1391.2,595.4 1395.4,596.3 1399.5,597.2 1403.6,598.1 1408.3,600.4 1413.1,602.8 1417.8,605.1 1422.5,606.3 1427.2,607.5 1431.9,608.7 1436.0,607.5 1440.2,606.4 1444.3,605.2 1448.4,604.0 1453.1,602.8 1457.8,601.6 1461.8,601.6 1465.8,601.6 1469.8,601.6 1473.8,601.6 1477.8,601.6 1481.9,601.6 1485.9,601.6 1489.9,601.6 1493.9,601.6 1497.9,601.6 1502.1,602.4 1506.4,603.3 1510.6,604.1 1514.9,605.0 1519.1,605.8 1522.9,607.9 1526.8,610.1 1530.6,612.2 1534.0,614.8 1537.3,617.4 1540.6,620.0 1543.9,622.6 1547.2,625.2 1550.9,627.6 1554.7,629.9 1558.5,632.3 1562.3,634.6 1566.1,637.0 1570.1,640.5 1574.0,644.1 1577.8,647.6 1581.9,649.4 1586.1,651.1 1590.2,652.9 1594.3,654.6 1598.1,656.3 1601.9,657.9 1605.6,659.6 1609.4,661.2 1613.2,662.9 1617.0,664.5 1620.7,666.2 1624.5,667.8 1628.3,669.5 1632.0,671.1 1635.6,673.8 1639.2,676.4 1642.7,679.1 1646.3,681.7 1649.9,685.0 1653.4,688.2 1656.9,691.5 1660.4,694.7 1664.3,696.7 1668.2,698.6 1672.1,700.6 1676.2,701.6 1680.4,702.7 1684.5,703.8 1688.6,704.8 1692.7,704.8 1696.8,704.8 1700.9,704.8 1705.0,704.8 1709.1,704.8 1713.2,704.8 1717.3,704.8 1721.4,704.8 1725.5,704.8 1729.5,704.8 1733.6,704.8 1737.7,704.8 1741.8,704.8 1745.9,704.8 1750.0,704.8 1754.1,704.8 1758.2,704.8 1762.3,704.8 1766.4,704.8 1770.5,706.1 1774.7,707.4 1778.8,708.7 1782.9,710.0 1787.6,711.2 1792.3,712.4 1797.0,713.5 1801.7,714.7 1806.4,715.4 1811.1,716.1 1815.9,716.9 1820.6,717.6 1825.3,718.3 1829.4,719.0 1833.6,719.8 1837.7,720.5 1841.8,721.3 1845.9,721.3 1850.0,721.3 1854.1,721.3 1858.2,721.3 1862.3,721.4 1866.4,721.4 1870.5,721.4 1874.6,721.4 1878.7,721.4 1882.8,721.4 1886.9,721.4 1891.0,721.4 1895.0,721.5 1899.1,721.5 1903.2,721.5 1907.3,721.5 1911.4,721.5 1915.5,721.5 1919.6,721.5 1923.7,721.5 1927.8,721.6 1931.9,721.6 1936.0,721.6 1940.1,721.6 1944.2,721.6 1946.1,718.2 1950.5,718.2 1954.9,718.2 1959.3,718.2 1963.7,718.2 1968.1,718.2 1972.5,718.2 1976.9,718.2 1981.3,718.2 1985.7,718.2 1987.6,715.0 1991.9,714.9 1996.2,714.8 2000.5,714.7 2004.9,714.7 2009.2,714.6 2013.5,714.5 2017.8,714.4 2022.8,713.1 2027.9,711.9 2032.9,710.6 2037.0,710.0 2041.2,709.5 2045.3,708.9 2049.5,708.4 2053.6,707.8"/></g>
<g stroke="#0000ff"><polyline points="158.3,1242.8 162.5,1242.8 166.7,1242.7 170.9,1242.7 175.2,1242.6 179.4,1242.6 183.6,1242.5 187.8,1242.5 192.0,1242.5 196.2,1242.4 200.5,1242.4 204.7,1242.3 208.9,1242.3 213.6,1241.7 218.3,1241.1 223.1,1240.5 227.8,1239.9 232.5,1239.3 237.2,1239.1 241.9,1238.8 246.7,1238.6 251.4,1238.3 256.1,1238.1 260.8,1237.4 265.5,1236.7 270.3,1236.0 275.0,1235.3 279.7,1234.6 284.4,1233.2 289.1,1231.8 293.8,1230.5 298.5,1229.1 302.6,1227.9 306.7,1226.8 310.9,1225.6 315.0,1224.4 318.9,1223.5 322.9,1222.5 326.8,1221.6 330.7,1219.4 334.6,1217.2 338.5,1215.0 341.6,1211.9 344.6,1208.7 347.7,1205.6 350.8,1201.5 353.7,1197.4 356.8,1193.3 358.6,1189.5 360.3,1185.7 362.2,1182.0 364.1,1178.2 366.0,1174.4 368.4,1169.7 370.6,1165.0 372.8,1160.3 373.9,1155.6 374.9,1150.8 376.0,1146.1 377.2,1141.4 378.1,1136.7 379.0,1132.0 380.0,1127.3 380.9,1122.6 381.8,1117.9 382.5,1113.9 383.1,1109.8 383.8,1105.8 384.5,1101.7 385.1,1097.7 385.8,1093.6 386.5,1089.6 387.2,1084.9 387.9,1080.2 388.6,1075.4 389.3,1070.7 389.9,1066.0 390.5,1061.9 391.0,1057.9 391.5,1053.8 392.0,1049.7 392.5,1045.6 393.0,1041.6 393.5,1037.5 393.9,1033.1 394.4,1028.7 394.8,1024.3 395.3,1019.9 395.7,1015.4 396.1,1011.0 396.6,1006.6 397.0,1002.2 397.6,997.8 398.2,993.4 398.8,988.9 399.4,984.5 400.0,980.1 400.6,975.6 401.2,971.2 401.7,966.8 402.3,962.4 402.9,957.9 403.5,953.5 404.1,949.1 404.7,944.7 405.3,940.2 405.9,935.8 406.4,931.4 407.0,927.0 407.6,922.6 408.2,918.2 408.8,913.8 409.4,909.3 410.0,904.9 410.6,900.5 411.2,896.1 411.8,891.7 412.5,887.3 413.2,882.9 413.9,878.6 414.6,874.2 415.3,869.8 416.0,865.4 416.8,861.1 417.6,856.8 418.4,852.5 419.1,848.1 420.0,843.8 420.9,839.5 422.5,834.8 424.4,830.1 426.8,825.4 430.1,821.8 432.6,825.4 433.3,830.1 434.5,834.8 435.9,839.5 437.4,844.2 438.1,848.1 438.8,852.1 439.6,856.0 440.4,859.9 441.1,863.9 441.9,867.8 442.6,871.8 443.2,875.9 443.9,879.9 444.6,884.0 445.2,888.0 445.9,892.1 446.6,896.1 447.1,900.4 447.7,904.7 448.3,909.0 448.9,913.4 449.5,917.7 450.0,922.0 450.5,926.0 451.1,930.1 451.6,934.1 452.1,938.2 452.6,942.2 453.1,946.3 453.6,950.3 454.1,954.3 454.6,958.4 455.1,962.4 455.6,966.5 456.1,970.5 456.6,974.6 457.1,978.6 457.9,983.3 458.6,988.0 459.3,992.8 460.0,997.5 460.7,1002.2 461.2,1006.6 461.7,1010.9 462.2,1015.3 462.7,1019.7 463.2,1024.1 463.7,1028.4 464.2,1032.8 464.9,1037.0 465.6,1041.2 466.2,1045.4 466.9,1049.6 467.5,1053.9 468.2,1058.1 468.9,1062.3 469.5,1066.5 470.2,1070.7 470.9,1074.7 471.5,1078.8 472.2,1082.8 472.9,1086.9 473.5,1090.9 474.2,1095.0 474.9,1099.0 475.7,1102.9 476.5,1106.9 477.3,1110.8 478.1,1114.7 478.9,1118.7 479.6,1122.6 480.4,1126.5 481.2,1130.5 482.0,1134.4 482.8,1138.3 483.6,1142.3 484.3,1146.2 485.3,1150.9 486.2,1155.6 487.2,1160.3 488.1,1165.0 489.1,1169.7 490.1,1174.0 491.1,1178.4 492.0,1182.7 493.0,1187.0 494.0,1191.4 495.1,1195.7 496.3,1199.6 497.5,1203.5 498.7,1207.5 499.9,1211.4 501.2,1215.3 502.5,1219.2 504.5,1223.0 506.5,1226.8 508.3,1230.5 510.3,1234.3 512.3,1238.1 514.7,1241.6 517.2,1245.2 519.8,1248.7 522.4,1252.2 527.2,1254.6 531.9,1256.9 536.6,1259.3 541.3,1261.3 546.1,1263.2 550.8,1265.2 554.9,1266.4 559.0,1267.6 563.2,1268.7 567.3,1269.9 572.0,1268.9 576.7,1267.9 581.4,1266.9 585.5,1265.9 589.6,1264.8 593.8,1263.8 597.9,1262.8 601.4,1260.5 604.9,1258.2 608.4,1255.8 611.9,1253.5 615.3,1251.2 618.8,1248.9 622.6,1246.1 626.3,1243.2 630.1,1240.4 633.8,1237.5 637.6,1234.7 640.4,1231.9 643.2,1229.1 646.0,1226.2 648.8,1223.4 651.6,1220.6 654.4,1217.3 657.2,1214.0 660.0,1210.7 662.8,1207.4 665.6,1204.1 667.9,1200.8 670.2,1197.5 672.6,1194.2 674.9,1190.9 677.3,1187.6 679.6,1184.1 681.9,1180.5 684.2,1177.0 686.5,1173.5 688.8,1169.2 691.4,1164.8 694.1,1160.5 698.1,1158.4 702.2,1156.2 706.1,1154.1 710.0,1156.2 713.9,1158.4 717.7,1160.5 719.9,1164.3 721.9,1168.2 724.4,1172.0 726.8,1175.8 730.0,1179.7 733.3,1183.7 736.5,1187.6 740.1,1190.2 743.7,1192.9 747.3,1195.5 750.8,1198.2 754.8,1200.6 758.7,1202.9 762.7,1205.3 766.6,1207.7 770.5,1210.0 774.4,1212.4 779.1,1213.4 783.9,1214.4 788.6,1215.4 794.5,1215.1 800.4,1214.7 805.1,1213.3 809.8,1211.9 814.5,1213.3 819.2,1214.7 823.9,1218.2 828.7,1221.8 834.6,1221.8 840.5,1221.8 844.4,1219.8 848.3,1217.9 852.2,1215.9 856.9,1214.7 861.7,1213.6 866.4,1212.4 870.5,1212.7 874.6,1213.0 878.8,1213.2 882.9,1213.5 886.9,1213.8 891.0,1214.2 895.0,1214.5 899.1,1214.9 903.1,1215.2 907.2,1215.6 911.2,1215.9 915.1,1217.9 919.1,1219.8 923.0,1221.8 928.8,1221.8 934.7,1221.8 939.4,1220.6 944.2,1219.4 948.6,1219.3 952.9,1219.2 957.3,1219.1 961.7,1219.0 966.1,1218.9 970.4,1218.8 974.8,1218.7 981.9,1215.4 985.9,1215.3 990.0,1215.2 994.0,1215.1 998.1,1215.0 1002.1,1214.9 1006.2,1214.8 1010.2,1214.7 1014.9,1213.3 1019.6,1211.9 1025.5,1212.7 1031.4,1213.5 1036.1,1217.0 1040.8,1220.6 1045.5,1221.5 1050.3,1222.5 1054.8,1218.8 1059.4,1215.2 1064.1,1213.7 1068.9,1212.1 1074.7,1211.9 1080.6,1211.7 1084.5,1210.7 1088.5,1209.8 1092.4,1208.8 1096.3,1209.8 1100.3,1210.7 1104.2,1211.7 1108.9,1212.0 1113.6,1212.2 1118.4,1212.5 1123.1,1212.8 1127.8,1214.4 1132.5,1216.0 1137.2,1217.6 1141.1,1220.3 1145.0,1223.1 1148.8,1225.8 1152.5,1229.9 1156.1,1234.1 1160.8,1235.2 1165.5,1236.4 1169.4,1235.2 1173.4,1234.1 1177.3,1232.9 1180.8,1229.6 1184.4,1226.3 1188.7,1226.1 1193.0,1226.0 1197.3,1225.8 1201.7,1225.6 1206.0,1225.5 1210.3,1225.3 1215.0,1223.9 1219.7,1222.5 1224.4,1221.1 1227.5,1218.0 1230.5,1214.8 1233.6,1211.7 1236.7,1207.8 1239.6,1203.8 1242.6,1199.9 1244.2,1195.8 1245.8,1191.7 1247.6,1187.5 1249.4,1183.4 1251.8,1178.7 1254.3,1173.9 1256.9,1169.2 1260.2,1166.1 1263.6,1162.9 1266.8,1159.8 1271.6,1156.8 1276.3,1153.9 1282.2,1154.2 1288.1,1154.6 1292.8,1157.4 1297.5,1160.3 1302.2,1160.3 1307.0,1160.3 1311.7,1160.3 1315.1,1156.5 1318.3,1152.7 1320.5,1148.8 1322.7,1144.8 1324.9,1140.9 1326.6,1136.8 1328.3,1132.7 1330.0,1128.5 1331.8,1124.4 1333.2,1120.6 1334.6,1116.9 1336.0,1113.1 1337.4,1109.4 1338.7,1105.6 1340.2,1100.9 1341.6,1096.2 1343.1,1091.4 1344.6,1086.7 1346.1,1082.6 1347.6,1078.5 1349.2,1074.3 1350.7,1070.2 1353.2,1066.3 1356.0,1062.3 1358.6,1058.4 1362.6,1055.9 1366.7,1053.4 1370.6,1050.9 1375.3,1053.5 1379.8,1056.1 1381.2,1060.2 1382.5,1064.3 1384.3,1068.5 1386.0,1072.6 1387.8,1076.7 1389.6,1080.8 1391.4,1085.0 1393.1,1089.1 1394.9,1093.2 1396.6,1097.3 1398.5,1101.5 1400.3,1105.6 1402.8,1109.5 1405.4,1113.5 1407.9,1117.4 1411.2,1120.1 1414.6,1122.9 1417.8,1125.6 1422.5,1125.6 1427.2,1125.6 1431.9,1124.4 1436.6,1123.3 1441.3,1126.8 1445.8,1130.3 1448.1,1133.5 1450.3,1136.8 1452.5,1140.0 1454.7,1143.3 1455.9,1147.1 1457.1,1150.9 1458.5,1154.6 1460.0,1158.4 1461.5,1162.2 1463.9,1166.9 1466.5,1171.6 1469.1,1176.3 1472.4,1179.1 1475.8,1181.8 1479.0,1184.6 1483.7,1185.5 1488.4,1186.3 1493.2,1187.2 1497.9,1188.1 1502.6,1190.1 1507.3,1192.0 1511.9,1194.0 1513.9,1198.1 1515.8,1202.2 1518.0,1206.3 1519.7,1210.4 1521.3,1214.5 1523.0,1218.7 1524.7,1222.8 1526.2,1227.5 1527.8,1232.3 1529.4,1237.0 1531.0,1240.9 1532.9,1244.8 1534.7,1248.7 1538.5,1253.5 1542.2,1258.2 1546.2,1260.5 1550.2,1262.9 1554.2,1265.2 1558.1,1267.6 1562.0,1269.9 1566.0,1272.3 1569.9,1274.0 1573.9,1275.8 1577.8,1277.5 1581.9,1278.3 1586.0,1279.0 1590.2,1279.8 1594.3,1280.6 1598.4,1281.5 1602.5,1282.3 1606.7,1283.2 1610.8,1284.1 1615.5,1284.1 1620.2,1284.1 1625.0,1284.1 1629.7,1284.1 1634.4,1284.1 1638.3,1286.1 1642.3,1288.0 1646.2,1290.0 1652.0,1290.6 1657.9,1291.2 1662.6,1287.7 1667.4,1284.1 1671.5,1283.3 1675.6,1282.5 1679.8,1281.8 1683.9,1281.0 1688.1,1281.0 1692.3,1280.9 1696.5,1280.9 1700.7,1280.8 1704.8,1280.8 1709.0,1280.7 1713.2,1280.7 1717.4,1280.6 1721.6,1280.6 1725.5,1278.5 1729.4,1276.3 1733.4,1274.2 1736.9,1272.3 1740.5,1270.4 1745.2,1272.6 1749.9,1274.7 1754.0,1278.0 1758.1,1281.3 1760.9,1278.3 1763.4,1275.3 1766.3,1272.3 1770.2,1269.6 1774.2,1266.8 1778.2,1264.1 1782.3,1263.2 1786.4,1262.3 1790.6,1261.4 1794.7,1260.5 1798.6,1259.1 1802.6,1257.7 1806.5,1256.3 1811.2,1256.0 1815.9,1255.6 1820.6,1255.3 1825.3,1254.9 1830.0,1254.6 1834.2,1254.5 1838.4,1254.4 1842.6,1254.2 1846.8,1254.1 1851.0,1254.0 1855.2,1253.9 1859.4,1253.7 1863.6,1253.6 1867.8,1253.5 1872.5,1251.7 1877.2,1249.9 1881.9,1249.7 1886.6,1249.4 1891.3,1249.2 1896.0,1247.8 1900.8,1246.4 1905.5,1245.2 1910.2,1244.0 1914.9,1242.8 1919.3,1242.8 1923.6,1242.8 1928.0,1242.8 1932.4,1242.8 1936.8,1242.8 1941.1,1242.8 1945.5,1242.8 1948.0,1243.5 1951.8,1244.9 1955.6,1246.3 1959.3,1244.6 1963.1,1242.9 1967.5,1241.8 1971.9,1240.8 1976.3,1239.7 1981.9,1238.1 1987.6,1236.5 1992.1,1236.5 1996.6,1236.5 2001.1,1236.5 2005.5,1236.5 2010.0,1236.5 2014.5,1236.5 2019.0,1236.5 2023.5,1236.5 2027.2,1239.7 2031.4,1239.7 2035.5,1239.7 2039.7,1239.7 2043.8,1239.7 2048.0,1239.7 2053.6,1242.9"/><polyline points="158.3,1242.8 162.5,1242.8 166.7,1242.7 171.0,1242.7 175.2,1242.6 179.4,1242.6 183.6,1242.5 187.8,1242.5 192.0,1242.5 196.3,1242.4 200.5,1242.4 204.7,1242.3 208.9,1242.3 213.6,1241.7 218.3,1241.1 223.1,1240.5 227.8,1239.9 232.5,1239.3 237.2,1239.1 241.9,1238.8 246.7,1238.6 251.4,1238.3 256.1,1238.1 260.8,1237.4 265.5,1236.7 270.3,1236.0 275.0,1235.3 279.7,1234.6 284.4,1233.2 289.1,1231.8 293.8,1230.5 298.5,1229.1 302.6,1227.9 306.8,1226.8 310.9,1225.6 315.0,1224.4 318.9,1223.5 322.9,1222.5 326.8,1221.6 330.7,1219.4 334.7,1217.2 338.7,1215.0 341.9,1211.9 345.1,1208.7 348.3,1205.6 351.5,1201.5 354.8,1197.4 358.0,1193.3 360.0,1189.5 362.1,1185.7 364.0,1182.0 365.9,1178.2 367.8,1174.4 370.2,1169.7 372.7,1165.0 375.2,1160.3 376.5,1155.6 377.8,1150.8 379.0,1146.1 380.2,1141.4 381.2,1136.7 382.1,1132.0 383.1,1127.3 384.0,1122.6 385.0,1117.9 385.7,1113.9 386.4,1109.8 387.0,1105.8 387.7,1101.7 388.4,1097.7 389.0,1093.6 389.7,1089.6 390.4,1084.9 391.1,1080.2 391.8,1075.4 392.5,1070.7 393.3,1066.0 393.8,1061.9 394.3,1057.9 394.8,1053.8 395.3,1049.7 395.8,1045.6 396.4,1041.6 396.9,1037.5 397.3,1033.1 397.8,1028.7 398.2,1024.3 398.6,1019.9 399.1,1015.4 399.5,1011.0 400.0,1006.6 400.4,1002.2 401.0,997.8 401.5,993.4 402.1,988.9 402.7,984.5 403.3,980.1 403.9,975.6 404.5,971.2 405.1,966.8 405.6,962.4 406.2,957.9 406.8,953.5 407.4,949.1 408.0,944.7 408.6,940.2 409.2,935.8 409.8,931.4 410.3,927.0 410.9,922.6 411.5,918.2 412.1,913.8 412.7,909.3 413.3,904.9 413.9,900.5 414.4,896.1 415.1,891.7 415.8,887.3 416.5,882.9 417.2,878.6 417.9,874.2 418.5,869.8 419.2,865.4 420.0,861.1 420.8,856.8 421.5,852.5 422.3,848.1 423.0,843.8 423.7,839.5 425.2,834.8 426.5,830.1 427.2,825.4 430.1,821.8 433.2,825.4 435.5,830.1 437.2,834.8 438.7,839.5 440.2,844.2 441.1,848.1 441.9,852.1 442.7,856.0 443.5,859.9 444.3,863.9 445.1,867.8 445.8,871.8 446.5,875.9 447.1,879.9 447.8,884.0 448.5,888.0 449.2,892.1 449.8,896.1 450.4,900.4 451.0,904.7 451.6,909.0 452.2,913.4 452.8,917.7 453.4,922.0 453.9,926.0 454.4,930.1 454.9,934.1 455.4,938.2 455.9,942.2 456.5,946.3 457.0,950.3 457.5,954.3 458.0,958.4 458.5,962.4 459.0,966.5 459.5,970.5 460.0,974.6 460.5,978.6 461.2,983.3 461.9,988.0 462.6,992.8 463.3,997.5 464.1,1002.2 464.6,1006.6 465.1,1010.9 465.6,1015.3 466.1,1019.7 466.6,1024.1 467.1,1028.4 467.6,1032.8 468.2,1037.0 468.8,1041.2 469.5,1045.4 470.2,1049.6 470.8,1053.9 471.5,1058.1 472.1,1062.3 472.8,1066.5 473.4,1070.7 474.1,1074.7 474.8,1078.8 475.4,1082.8 476.1,1086.9 476.8,1090.9 477.4,1095.0 478.1,1099.0 478.9,1102.9 479.6,1106.9 480.4,1110.8 481.2,1114.7 482.0,1118.7 482.8,1122.6 483.5,1126.5 484.3,1130.5 485.1,1134.4 485.9,1138.3 486.7,1142.3 487.5,1146.2 488.4,1150.9 489.3,1155.6 490.3,1160.3 491.2,1165.0 492.1,1169.7 493.1,1174.0 494.1,1178.4 495.1,1182.7 496.0,1187.0 497.0,1191.4 497.9,1195.7 499.1,1199.6 500.2,1203.5 501.4,1207.5 502.6,1211.4 503.7,1215.3 504.7,1219.2 506.5,1223.0 508.3,1226.8 510.1,1230.5 511.9,1234.3 513.7,1238.1 516.0,1241.6 518.3,1245.2 520.4,1248.7 522.6,1252.2 527.2,1254.6 531.9,1256.9 536.6,1259.3 541.3,1261.3 546.1,1263.2 550.8,1265.2 554.9,1266.4 559.1,1267.6 563.2,1268.7 567.3,1269.9 572.0,1268.9 576.7,1267.9 581.4,1266.9 585.5,1265.9 589.7,1264.8 593.8,1263.8 597.9,1262.8 601.4,1260.5 604.9,1258.2 608.4,1255.8 611.9,1253.5 615.5,1251.2 619.0,1248.9 622.7,1246.1 626.5,1243.2 630.3,1240.4 634.0,1237.5 637.8,1234.7 640.7,1231.9 643.6,1229.1 646.4,1226.2 649.3,1223.4 652.2,1220.6 655.0,1217.3 657.9,1214.0 660.7,1210.7 663.6,1207.4 666.4,1204.1 668.8,1200.8 671.2,1197.5 673.6,1194.2 676.0,1190.9 678.3,1187.6 680.7,1184.1 683.1,1180.5 685.5,1177.0 687.9,1173.5 690.3,1169.2 692.4,1164.8 694.5,1160.5 698.3,1158.4 702.2,1156.2 706.1,1154.1 710.0,1156.2 714.0,1158.4 718.1,1160.5 720.6,1164.3 723.3,1168.2 725.5,1172.0 727.8,1175.8 730.9,1179.7 733.9,1183.7 736.9,1187.6 740.4,1190.2 743.9,1192.9 747.4,1195.5 751.0,1198.2 754.9,1200.6 758.8,1202.9 762.7,1205.3 766.6,1207.7 770.5,1210.0 774.4,1212.4 779.1,1213.4 783.9,1214.4 788.6,1215.4 794.5,1215.1 800.4,1214.7 805.1,1213.3 809.8,1211.9 814.5,1213.3 819.2,1214.7 824.0,1218.2 828.7,1221.8 834.6,1221.8 840.5,1221.8 844.4,1219.8 848.3,1217.9 852.2,1215.9 856.9,1214.7 861.7,1213.6 866.4,1212.4 870.5,1212.7 874.7,1213.0 878.8,1213.2 882.9,1213.5 886.9,1213.8 891.0,1214.2 895.0,1214.5 899.1,1214.9 903.1,1215.2 907.2,1215.6 911.2,1215.9 915.1,1217.9 919.1,1219.8 923.0,1221.8 928.9,1221.8 934.7,1221.8 939.5,1220.6 944.2,1219.4 948.6,1219.3 952.9,1219.2 957.3,1219.1 961.7,1219.0 966.1,1218.9 970.4,1218.8 974.8,1218.7 981.9,1215.4 985.9,1215.3 990.0,1215.2 994.0,1215.1 998.1,1215.0 1002.1,1214.9 1006.2,1214.8 1010.2,1214.7 1014.9,1213.3 1019.6,1211.9 1025.5,1212.7 1031.4,1213.5 1036.1,1217.0 1040.8,1220.6 1045.6,1221.5 1050.3,1222.5 1054.9,1218.8 1059.4,1215.2 1064.2,1213.7 1068.9,1212.1 1074.8,1211.9 1080.6,1211.7 1084.5,1210.7 1088.5,1209.8 1092.4,1208.8 1096.3,1209.8 1100.3,1210.7 1104.2,1211.7 1108.9,1212.0 1113.7,1212.2 1118.4,1212.5 1123.1,1212.8 1127.8,1214.4 1132.5,1216.0 1137.2,1217.6 1141.2,1220.3 1145.2,1223.1 1149.2,1225.8 1152.6,1229.9 1156.1,1234.1 1160.8,1235.2 1165.5,1236.4 1169.4,1235.2 1173.4,1234.1 1177.3,1232.9 1180.9,1229.6 1184.4,1226.3 1188.7,1226.1 1193.0,1226.0 1197.4,1225.8 1201.7,1225.6 1206.0,1225.5 1210.3,1225.3 1215.0,1223.9 1219.7,1222.5 1224.4,1221.1 1227.7,1218.0 1231.0,1214.8 1234.2,1211.7 1237.4,1207.8 1240.7,1203.8 1244.0,1199.9 1245.9,1195.8 1247.9,1191.7 1249.6,1187.5 1251.4,1183.4 1253.7,1178.7 1255.8,1173.9 1257.9,1169.2 1260.9,1166.1 1263.9,1162.9 1267.0,1159.8 1271.6,1156.8 1276.3,1153.9 1282.2,1154.2 1288.1,1154.6 1292.8,1157.4 1297.5,1160.3 1302.2,1160.3 1307.0,1160.3 1311.7,1160.3 1315.3,1156.5 1319.1,1152.7 1321.6,1148.8 1324.2,1144.8 1326.7,1140.9 1328.5,1136.8 1330.4,1132.7 1332.2,1128.5 1334.0,1124.4 1335.5,1120.6 1336.9,1116.9 1338.3,1113.1 1339.8,1109.4 1341.3,1105.6 1342.8,1100.9 1344.3,1096.2 1345.7,1091.4 1347.2,1086.7 1348.6,1082.6 1350.0,1078.5 1351.3,1074.3 1352.7,1070.2 1354.9,1066.3 1356.9,1062.3 1359.0,1058.4 1362.8,1055.9 1366.7,1053.4 1370.6,1050.9 1375.3,1053.5 1380.2,1056.1 1382.4,1060.2 1384.6,1064.3 1386.4,1068.5 1388.2,1072.6 1389.9,1076.7 1391.7,1080.8 1393.5,1085.0 1395.3,1089.1 1397.0,1093.2 1398.8,1097.3 1400.4,1101.5 1402.1,1105.6 1404.3,1109.5 1406.5,1113.5 1408.7,1117.4 1411.7,1120.1 1414.7,1122.9 1417.8,1125.6 1422.5,1125.6 1427.2,1125.6 1431.9,1124.4 1436.6,1123.3 1441.3,1126.8 1446.2,1130.3 1448.7,1133.5 1451.2,1136.8 1453.8,1140.0 1456.3,1143.3 1457.9,1147.1 1459.5,1150.9 1460.9,1154.6 1462.2,1158.4 1463.5,1162.2 1465.8,1166.9 1467.9,1171.6 1470.1,1176.3 1473.0,1179.1 1475.9,1181.8 1479.0,1184.6 1483.7,1185.5 1488.5,1186.3 1493.2,1187.2 1497.9,1188.1 1502.6,1190.1 1507.3,1192.0 1512.1,1194.0 1514.7,1198.1 1517.4,1202.2 1519.8,1206.3 1521.6,1210.4 1523.5,1214.5 1525.3,1218.7 1527.1,1222.8 1528.7,1227.5 1530.3,1232.3 1531.8,1237.0 1533.4,1240.9 1534.7,1244.8 1536.1,1248.7 1539.3,1253.5 1542.6,1258.2 1546.4,1260.5 1550.3,1262.9 1554.2,1265.2 1558.2,1267.6 1562.1,1269.9 1566.0,1272.3 1569.9,1274.0 1573.9,1275.8 1577.8,1277.5 1581.9,1278.3 1586.1,1279.0 1590.2,1279.8 1594.3,1280.6 1598.4,1281.5 1602.6,1282.3 1606.7,1283.2 1610.8,1284.1 1615.5,1284.1 1620.2,1284.1 1625.0,1284.1 1629.7,1284.1 1634.4,1284.1 1638.3,1286.1 1642.3,1288.0 1646.2,1290.0 1652.1,1290.6 1657.9,1291.2 1662.7,1287.7 1667.4,1284.1 1671.5,1283.3 1675.7,1282.5 1679.8,1281.8 1683.9,1281.0 1688.1,1281.0 1692.3,1280.9 1696.5,1280.9 1700.7,1280.8 1704.8,1280.8 1709.0,1280.7 1713.2,1280.7 1717.4,1280.6 1721.6,1280.6 1725.5,1278.5 1729.5,1276.3 1733.4,1274.2 1737.0,1272.3 1740.5,1270.4 1745.2,1272.6 1749.9,1274.7 1754.0,1278.0 1758.1,1281.3 1760.9,1278.3 1763.8,1275.3 1766.5,1272.3 1770.4,1269.6 1774.3,1266.8 1778.2,1264.1 1782.3,1263.2 1786.5,1262.3 1790.6,1261.4 1794.7,1260.5 1798.6,1259.1 1802.6,1257.7 1806.5,1256.3 1811.2,1256.0 1815.9,1255.6 1820.6,1255.3 1825.3,1254.9 1830.0,1254.6 1834.2,1254.5 1838.4,1254.4 1842.6,1254.2 1846.8,1254.1 1851.0,1254.0 1855.2,1253.9 1859.4,1253.7 1863.6,1253.6 1867.8,1253.5 1872.5,1251.7 1877.2,1249.9 1881.9,1249.7 1886.6,1249.4 1891.3,1249.2 1896.1,1247.8 1900.8,1246.4 1905.5,1245.2 1910.2,1244.0 1914.9,1242.8 1919.3,1242.8 1923.6,1242.8 1928.0,1242.8 1932.4,1242.8 1936.8,1242.8 1941.1,1242.8 1945.5,1242.8 1948.0,1243.5 1951.8,1244.9 1955.6,1246.3 1959.4,1244.6 1963.1,1242.9 1967.5,1241.8 1971.9,1240.8 1976.3,1239.7 1982.0,1238.1 1987.6,1236.5 1992.1,1236.5 1996.6,1236.5 2001.1,1236.5 2005.5,1236.5 2010.0,1236.5 2014.5,1236.5 2019.0,1236.5 2023.5,1236.5 2027.2,1239.7 2031.4,1239.7 2035.5,1239.7 2039.7,1239.7 2043.8,1239.7 2048.0,1239.7 2053.6,1242.9"/></g>
<g stroke="#ff0000"><polyline points="158.3,1240.9 163.4,1240.8 168.5,1240.6 173.6,1240.5 178.3,1239.8 183.0,1239.1 187.7,1238.3 192.4,1237.6 197.1,1236.9 201.0,1236.0 205.0,1235.1 208.9,1234.2 212.8,1233.3 216.8,1232.4 220.7,1231.5 224.6,1230.5 228.6,1229.6 232.5,1228.7 236.4,1227.7 240.4,1226.8 244.3,1225.8 248.3,1225.3 252.4,1224.7 256.4,1224.2 260.5,1223.7 264.5,1223.2 268.6,1222.6 272.6,1222.1 277.3,1220.8 282.0,1219.5 286.7,1218.2 291.4,1216.9 296.1,1215.7 300.8,1214.6 305.6,1213.4 310.3,1212.2 314.1,1210.8 317.9,1209.4 321.6,1207.9 325.4,1206.5 329.2,1205.1 332.7,1203.0 336.2,1200.9 339.7,1198.9 343.3,1196.8 346.8,1194.8 350.3,1192.7 353.8,1190.6 357.4,1188.6 360.9,1186.5 364.5,1184.4 368.0,1182.4 371.5,1180.3 375.4,1176.8 379.2,1173.2 383.0,1169.7 385.3,1165.7 387.3,1161.8 389.6,1157.8 391.1,1153.9 392.5,1149.9 394.1,1146.0 395.6,1142.1 397.2,1138.1 398.8,1134.2 400.7,1130.0 402.6,1125.7 404.5,1121.5 406.4,1117.2 408.3,1113.0 410.2,1108.7 412.0,1104.5 413.9,1100.2 415.7,1096.0 417.5,1091.7 418.6,1087.8 419.7,1083.9 420.9,1080.0 422.1,1076.0 423.3,1072.1 424.5,1068.2 425.9,1064.0 427.4,1059.7 428.8,1055.5 430.3,1051.2 431.7,1047.0 433.6,1042.9 435.4,1038.8 437.2,1034.6 439.0,1030.5 441.4,1025.8 443.9,1021.0 446.3,1016.3 449.2,1012.8 452.3,1009.2 455.2,1005.7 459.4,1004.5 463.5,1003.3 466.9,1007.5 469.9,1011.6 471.7,1016.3 473.4,1021.0 475.2,1025.7 476.3,1030.4 477.4,1035.2 478.5,1039.9 479.7,1044.6 480.6,1048.7 481.4,1052.8 482.3,1057.0 483.1,1061.1 483.8,1065.8 484.5,1070.5 485.2,1075.3 486.0,1080.0 486.8,1084.7 488.0,1088.8 489.3,1093.0 490.4,1097.1 491.6,1101.2 492.8,1105.3 494.0,1109.5 495.2,1113.6 496.4,1117.7 497.9,1121.8 499.4,1126.0 500.9,1130.1 502.4,1134.2 503.8,1138.0 505.3,1141.7 506.7,1145.5 508.1,1149.2 509.5,1153.0 510.9,1156.8 512.4,1160.6 513.8,1164.3 515.2,1168.1 516.7,1171.9 518.5,1176.0 520.2,1180.2 522.5,1184.3 524.6,1188.4 529.5,1190.8 534.3,1193.1 539.0,1195.5 543.7,1195.7 548.4,1195.9 553.1,1196.2 557.8,1196.4 562.5,1196.6 566.3,1195.2 570.1,1193.8 573.8,1192.4 577.6,1191.0 581.4,1189.6 585.5,1187.8 589.6,1186.0 593.8,1184.3 597.9,1182.5 602.6,1180.1 607.3,1177.8 611.9,1175.4 615.5,1172.2 618.9,1169.0 622.5,1165.7 626.0,1162.5 628.9,1159.7 631.7,1156.8 634.7,1153.9 637.6,1151.1 641.2,1149.0 644.8,1146.9 648.3,1144.9 651.9,1142.8 656.6,1140.8 661.3,1138.9 666.0,1136.9 669.8,1133.4 673.7,1129.8 677.6,1126.3 680.9,1123.0 684.2,1119.7 687.5,1116.4 690.8,1113.1 694.1,1109.8 697.6,1106.3 701.1,1102.8 704.6,1099.2 708.1,1095.7 711.0,1092.2 713.9,1088.6 716.8,1085.0 719.6,1081.5 721.4,1077.7 723.1,1074.0 725.0,1070.2 727.0,1066.5 729.0,1062.7 731.4,1059.2 733.8,1055.6 736.3,1052.0 738.8,1048.5 742.4,1045.5 746.0,1042.6 749.5,1039.7 753.0,1036.7 756.0,1033.8 758.9,1030.8 761.9,1027.9 764.9,1024.9 769.7,1022.4 774.4,1019.8 779.1,1018.5 783.9,1017.2 787.8,1018.6 791.7,1020.0 795.6,1021.4 798.6,1025.3 801.6,1029.3 804.8,1033.2 808.0,1035.9 811.1,1038.7 813.9,1041.4 815.1,1045.5 816.2,1049.7 817.7,1053.8 819.1,1057.9 820.2,1062.2 821.4,1066.4 822.5,1070.7 823.7,1074.9 824.9,1079.2 826.1,1083.3 827.3,1087.5 828.4,1091.6 829.6,1095.7 830.8,1099.8 832.0,1104.0 833.2,1108.1 834.4,1112.2 836.1,1116.1 838.1,1120.1 840.0,1124.0 843.9,1126.9 847.5,1129.8 853.4,1129.8 859.3,1129.8 863.2,1131.8 867.1,1133.7 871.1,1135.7 875.0,1138.1 878.9,1140.4 882.8,1142.8 886.7,1146.3 890.6,1149.9 894.5,1153.4 898.5,1156.9 902.4,1160.5 906.3,1164.0 909.5,1166.8 912.5,1169.5 915.5,1172.3 917.3,1175.8 919.3,1179.4 921.4,1182.9 925.8,1187.0 930.0,1191.1 934.7,1191.4 939.4,1191.7 944.2,1192.0 948.9,1192.3 953.6,1193.7 958.3,1195.2 963.0,1196.6 967.3,1197.0 971.7,1197.4 976.0,1197.8 980.3,1198.1 984.7,1198.5 989.0,1198.9 993.0,1199.1 997.0,1199.2 1001.0,1199.4 1005.0,1199.6 1009.0,1199.8 1013.0,1199.9 1017.0,1200.1 1021.0,1200.3 1025.0,1200.4 1029.0,1200.6 1032.1,1204.1 1035.1,1207.7 1038.4,1211.2 1041.9,1213.5 1045.6,1215.9 1049.1,1218.2 1052.5,1214.5 1055.8,1210.7 1059.3,1207.0 1062.9,1204.6 1066.4,1202.2 1070.0,1199.9 1073.6,1197.5 1077.3,1195.6 1081.1,1193.7 1084.9,1191.9 1088.6,1190.0 1092.4,1188.1 1097.1,1188.1 1101.8,1188.1 1106.6,1188.1 1111.3,1188.1 1116.0,1188.1 1119.5,1190.4 1123.1,1192.8 1126.6,1195.2 1130.1,1197.5 1133.7,1199.9 1137.2,1202.2 1140.6,1204.6 1144.0,1207.0 1146.2,1210.9 1148.6,1214.8 1151.1,1218.7 1156.1,1222.2 1160.8,1225.8 1165.5,1222.8 1170.1,1219.9 1173.3,1217.2 1176.5,1214.4 1179.7,1211.7 1183.8,1210.8 1187.9,1209.9 1192.1,1209.0 1196.2,1208.1 1200.9,1206.5 1205.6,1204.9 1210.3,1203.4 1215.0,1201.8 1219.7,1200.4 1224.4,1199.0 1229.2,1197.7 1233.9,1196.3 1238.0,1194.2 1242.1,1192.2 1246.3,1190.1 1250.4,1188.1 1255.1,1188.0 1259.8,1187.9 1264.6,1187.8 1269.3,1187.7 1274.0,1187.6 1277.9,1186.4 1281.8,1185.3 1285.7,1184.1 1290.4,1185.5 1295.2,1186.9 1299.9,1189.3 1304.6,1191.6 1309.3,1194.0 1314.0,1195.0 1318.7,1196.0 1323.5,1197.0 1328.2,1198.0 1332.9,1197.0 1337.6,1196.0 1342.3,1195.0 1347.0,1194.0 1350.8,1192.1 1354.5,1190.2 1358.3,1188.4 1362.1,1186.5 1365.9,1184.6 1369.6,1182.7 1373.4,1180.8 1377.2,1178.9 1380.9,1177.0 1384.7,1175.1 1388.5,1173.0 1392.2,1170.9 1396.0,1168.7 1399.8,1166.6 1403.6,1164.5 1407.4,1162.4 1411.1,1160.3 1414.9,1158.1 1418.7,1156.0 1422.5,1153.9 1426.0,1151.2 1429.5,1148.6 1433.0,1146.0 1436.5,1143.3 1440.5,1140.9 1444.5,1138.6 1448.4,1136.2 1452.3,1135.3 1456.3,1134.3 1460.2,1133.4 1464.9,1134.3 1469.6,1135.3 1474.3,1136.2 1478.7,1136.4 1483.1,1136.5 1487.5,1136.7 1491.8,1136.9 1496.2,1137.1 1500.6,1137.2 1505.0,1137.4 1508.8,1139.2 1512.6,1140.9 1516.3,1142.7 1518.3,1147.4 1520.3,1152.1 1522.7,1156.8 1525.0,1161.5 1527.5,1166.2 1530.0,1170.9 1533.3,1174.5 1536.8,1178.0 1540.0,1181.6 1544.8,1183.5 1549.5,1185.5 1554.2,1187.4 1558.9,1189.0 1563.7,1190.6 1568.4,1192.2 1573.1,1191.9 1577.8,1191.6 1582.5,1191.3 1587.2,1191.0 1594.3,1187.9 1599.0,1187.9 1603.8,1187.9 1608.5,1187.9 1613.2,1187.9 1617.1,1190.1 1621.0,1192.3 1624.9,1194.5 1629.6,1196.8 1634.3,1199.2 1636.4,1202.7 1638.6,1206.3 1641.0,1209.8 1644.2,1213.4 1647.6,1216.9 1650.8,1220.5 1655.6,1223.0 1660.3,1225.6 1665.0,1225.8 1669.7,1225.9 1674.5,1226.1 1679.2,1226.3 1683.9,1227.5 1688.6,1228.7 1693.3,1229.9 1697.2,1230.8 1701.2,1231.8 1705.1,1232.7 1709.0,1234.7 1713.0,1236.8 1716.9,1238.8 1721.6,1238.8 1726.3,1238.8 1729.8,1235.8 1733.4,1232.7 1739.3,1232.7 1745.2,1232.7 1748.3,1235.8 1751.4,1239.0 1754.6,1242.1 1759.3,1242.1 1764.0,1242.1 1767.5,1239.3 1771.1,1236.5 1775.3,1236.5 1779.6,1236.5 1783.8,1236.5 1788.1,1236.5 1792.3,1236.5 1796.2,1238.4 1800.2,1240.2 1804.1,1242.1 1808.8,1244.2 1813.4,1246.4 1817.0,1250.0 1820.6,1253.5 1824.8,1254.2 1829.1,1254.9 1833.3,1255.6 1837.6,1256.3 1841.8,1257.0 1846.5,1258.8 1851.2,1260.5 1855.1,1262.7 1859.1,1264.9 1863.0,1267.1 1867.7,1267.2 1872.4,1267.3 1877.2,1267.5 1881.9,1267.6 1889.0,1270.7 1893.1,1270.7 1897.2,1270.7 1901.4,1270.7 1905.5,1270.7 1909.6,1270.7 1913.8,1270.7 1917.9,1270.7 1922.0,1270.7 1926.1,1270.7 1930.2,1270.7 1934.4,1270.7 1938.5,1270.7 1940.5,1270.4 1943.3,1273.5 1946.1,1276.5 1951.7,1276.7 1957.4,1276.9 1963.1,1271.8 1967.8,1269.4 1972.5,1267.1 1976.7,1267.0 1981.0,1266.9 1985.2,1266.8 1989.5,1266.7 1993.3,1263.7 1997.6,1263.7 2001.9,1263.7 2006.2,1263.7 2010.6,1263.7 2014.9,1263.7 2019.2,1263.7 2023.5,1263.7 2027.2,1267.1 2031.6,1267.1 2036.0,1267.1 2040.4,1267.1 2044.8,1267.1 2049.2,1267.1 2053.6,1267.1"/><polyline points="158.3,1240.9 163.4,1240.8 168.5,1240.6 173.6,1240.5 178.3,1239.8 183.0,1239.1 187.7,1238.3 192.4,1237.6 197.1,1236.9 201.0,1236.0 205.0,1235.1 208.9,1234.2 212.8,1233.3 216.8,1232.4 220.7,1231.5 224.6,1230.5 228.6,1229.6 232.5,1228.7 236.4,1227.7 240.4,1226.8 244.3,1225.8 248.3,1225.3 252.4,1224.7 256.4,1224.2 260.5,1223.7 264.5,1223.2 268.6,1222.6 272.6,1222.1 277.3,1220.8 282.0,1219.5 286.7,1218.2 291.4,1216.9 296.1,1215.7 300.9,1214.6 305.6,1213.4 310.3,1212.2 314.1,1210.8 317.9,1209.4 321.6,1207.9 325.4,1206.5 329.2,1205.1 332.7,1203.0 336.3,1200.9 339.8,1198.9 343.3,1196.8 346.9,1194.8 350.4,1192.7 353.9,1190.6 357.4,1188.6 361.0,1186.5 364.5,1184.4 368.1,1182.4 371.7,1180.3 375.6,1176.8 379.7,1173.2 383.8,1169.7 386.3,1165.7 388.9,1161.8 391.4,1157.8 393.1,1153.9 394.8,1149.9 396.3,1146.0 397.9,1142.1 399.4,1138.1 401.0,1134.2 402.8,1130.0 404.7,1125.7 406.6,1121.5 408.4,1117.2 410.3,1113.0 412.2,1108.7 414.1,1104.5 416.0,1100.2 417.9,1096.0 419.9,1091.7 421.1,1087.8 422.4,1083.9 423.6,1080.0 424.8,1076.0 425.9,1072.1 427.1,1068.2 428.5,1064.0 429.9,1059.7 431.3,1055.5 432.7,1051.2 434.1,1047.0 435.8,1042.9 437.5,1038.8 439.2,1034.6 441.0,1030.5 443.3,1025.8 445.5,1021.0 447.7,1016.3 450.3,1012.8 452.7,1009.2 455.4,1005.7 459.4,1004.5 463.5,1003.3 467.2,1007.5 471.3,1011.6 473.4,1016.3 475.7,1021.0 477.8,1025.7 479.0,1030.4 480.3,1035.2 481.5,1039.9 482.7,1044.6 483.6,1048.7 484.5,1052.8 485.4,1057.0 486.3,1061.1 487.0,1065.8 487.8,1070.5 488.5,1075.3 489.2,1080.0 489.8,1084.7 490.9,1088.8 492.0,1093.0 493.2,1097.1 494.4,1101.2 495.6,1105.3 496.7,1109.5 497.9,1113.6 499.0,1117.7 500.4,1121.8 501.9,1126.0 503.3,1130.1 504.8,1134.2 506.2,1138.0 507.6,1141.7 509.0,1145.5 510.5,1149.2 511.9,1153.0 513.3,1156.8 514.7,1160.6 516.1,1164.3 517.5,1168.1 518.9,1171.9 520.6,1176.0 522.4,1180.2 523.6,1184.3 525.0,1188.4 529.6,1190.8 534.3,1193.1 539.0,1195.5 543.7,1195.7 548.4,1195.9 553.1,1196.2 557.8,1196.4 562.5,1196.6 566.3,1195.2 570.1,1193.8 573.8,1192.4 577.6,1191.0 581.4,1189.6 585.5,1187.8 589.7,1186.0 593.8,1184.3 597.9,1182.5 602.6,1180.1 607.3,1177.8 612.1,1175.4 615.6,1172.2 619.3,1169.0 622.8,1165.7 626.4,1162.5 629.3,1159.7 632.2,1156.8 635.0,1153.9 637.8,1151.1 641.3,1149.0 644.8,1146.9 648.4,1144.9 651.9,1142.8 656.6,1140.8 661.3,1138.9 666.0,1136.9 670.0,1133.4 674.0,1129.8 678.0,1126.3 681.3,1123.0 684.6,1119.7 687.9,1116.4 691.2,1113.1 694.5,1109.8 698.0,1106.3 701.6,1102.8 705.1,1099.2 708.7,1095.7 711.7,1092.2 714.7,1088.6 717.7,1085.0 720.8,1081.5 722.8,1077.7 724.9,1074.0 726.8,1070.2 728.6,1066.5 730.4,1062.7 732.7,1059.2 735.0,1055.6 737.2,1052.0 739.4,1048.5 742.8,1045.5 746.3,1042.6 749.8,1039.7 753.4,1036.7 756.3,1033.8 759.3,1030.8 762.2,1027.9 765.1,1024.9 769.7,1022.4 774.4,1019.8 779.2,1018.5 783.9,1017.2 787.8,1018.6 791.8,1020.0 795.8,1021.4 799.0,1025.3 802.3,1029.3 805.4,1033.2 808.4,1035.9 811.7,1038.7 815.1,1041.4 816.9,1045.5 818.7,1049.7 820.2,1053.8 821.7,1057.9 822.9,1062.2 824.2,1066.4 825.3,1070.7 826.5,1074.9 827.7,1079.2 828.9,1083.3 830.0,1087.5 831.2,1091.6 832.4,1095.7 833.6,1099.8 834.7,1104.0 835.8,1108.1 837.0,1112.2 838.5,1116.1 839.7,1120.1 841.0,1124.0 844.1,1126.9 847.5,1129.8 853.4,1129.8 859.3,1129.8 863.2,1131.8 867.2,1133.7 871.1,1135.7 875.1,1138.1 879.0,1140.4 883.0,1142.8 886.9,1146.3 890.9,1149.9 894.9,1153.4 898.8,1156.9 902.7,1160.5 906.7,1164.0 909.8,1166.8 913.0,1169.5 916.3,1172.3 918.4,1175.8 920.4,1179.4 922.2,1182.9 926.0,1187.0 930.0,1191.1 934.7,1191.4 939.5,1191.7 944.2,1192.0 948.9,1192.3 953.6,1193.7 958.3,1195.2 963.0,1196.6 967.3,1197.0 971.7,1197.4 976.0,1197.8 980.3,1198.1 984.7,1198.5 989.0,1198.9 993.0,1199.1 997.0,1199.2 1001.0,1199.4 1005.0,1199.6 1009.0,1199.8 1013.0,1199.9 1017.0,1200.1 1021.0,1200.3 1025.0,1200.4 1029.0,1200.6 1032.3,1204.1 1035.5,1207.7 1038.6,1211.2 1042.1,1213.5 1045.6,1215.9 1049.1,1218.2 1052.6,1214.5 1056.2,1210.7 1059.5,1207.0 1063.0,1204.6 1066.6,1202.2 1070.1,1199.9 1073.6,1197.5 1077.4,1195.6 1081.1,1193.7 1084.9,1191.9 1088.6,1190.0 1092.4,1188.1 1097.1,1188.1 1101.8,1188.1 1106.6,1188.1 1111.3,1188.1 1116.0,1188.1 1119.6,1190.4 1123.1,1192.8 1126.7,1195.2 1130.3,1197.5 1133.8,1199.9 1137.3,1202.2 1140.9,1204.6 1144.6,1207.0 1147.1,1210.9 1149.5,1214.8 1151.7,1218.7 1156.1,1222.2 1160.8,1225.8 1165.5,1222.8 1170.3,1219.9 1173.5,1217.2 1176.6,1214.4 1179.7,1211.7 1183.8,1210.8 1188.0,1209.9 1192.1,1209.0 1196.2,1208.1 1200.9,1206.5 1205.6,1204.9 1210.3,1203.4 1215.0,1201.8 1219.7,1200.4 1224.5,1199.0 1229.2,1197.7 1233.9,1196.3 1238.0,1194.2 1242.2,1192.2 1246.3,1190.1 1250.4,1188.1 1255.1,1188.0 1259.8,1187.9 1264.6,1187.8 1269.3,1187.7 1274.0,1187.6 1277.9,1186.4 1281.8,1185.3 1285.7,1184.1 1290.5,1185.5 1295.2,1186.9 1299.9,1189.3 1304.6,1191.6 1309.3,1194.0 1314.0,1195.0 1318.8,1196.0 1323.5,1197.0 1328.2,1198.0 1332.9,1197.0 1337.6,1196.0 1342.3,1195.0 1347.0,1194.0 1350.8,1192.1 1354.6,1190.2 1358.4,1188.4 1362.1,1186.5 1365.9,1184.6 1369.7,1182.7 1373.4,1180.8 1377.2,1178.9 1381.0,1177.0 1384.7,1175.1 1388.5,1173.0 1392.3,1170.9 1396.1,1168.7 1399.8,1166.6 1403.6,1164.5 1407.4,1162.4 1411.2,1160.3 1415.0,1158.1 1418.8,1156.0 1422.5,1153.9 1426.1,1151.2 1429.6,1148.6 1433.1,1146.0 1436.7,1143.3 1440.6,1140.9 1444.5,1138.6 1448.4,1136.2 1452.3,1135.3 1456.3,1134.3 1460.2,1133.4 1464.9,1134.3 1469.6,1135.3 1474.3,1136.2 1478.7,1136.4 1483.1,1136.5 1487.5,1136.7 1491.8,1136.9 1496.2,1137.1 1500.6,1137.2 1505.0,1137.4 1508.8,1139.2 1512.7,1140.9 1516.7,1142.7 1519.4,1147.4 1522.1,1152.1 1524.5,1156.8 1526.8,1161.5 1529.0,1166.2 1531.2,1170.9 1534.2,1174.5 1537.1,1178.0 1540.2,1181.6 1544.8,1183.5 1549.5,1185.5 1554.2,1187.4 1558.9,1189.0 1563.7,1190.6 1568.4,1192.2 1573.1,1191.9 1577.8,1191.6 1582.5,1191.3 1587.2,1191.0 1594.3,1187.9 1599.0,1187.9 1603.8,1187.9 1608.5,1187.9 1613.2,1187.9 1617.1,1190.1 1621.0,1192.3 1624.9,1194.5 1629.7,1196.8 1634.5,1199.2 1637.0,1202.7 1639.6,1206.3 1641.8,1209.8 1644.9,1213.4 1647.9,1216.9 1651.0,1220.5 1655.6,1223.0 1660.3,1225.6 1665.0,1225.8 1669.8,1225.9 1674.5,1226.1 1679.2,1226.3 1683.9,1227.5 1688.6,1228.7 1693.3,1229.9 1697.2,1230.8 1701.2,1231.8 1705.1,1232.7 1709.0,1234.7 1713.0,1236.8 1716.9,1238.8 1721.6,1238.8 1726.3,1238.8 1729.9,1235.8 1733.4,1232.7 1739.3,1232.7 1745.2,1232.7 1748.4,1235.8 1751.5,1239.0 1754.6,1242.1 1759.3,1242.1 1764.0,1242.1 1767.6,1239.3 1771.1,1236.5 1775.3,1236.5 1779.6,1236.5 1783.8,1236.5 1788.1,1236.5 1792.3,1236.5 1796.2,1238.4 1800.2,1240.2 1804.1,1242.1 1808.8,1244.2 1813.6,1246.4 1817.1,1250.0 1820.6,1253.5 1824.8,1254.2 1829.1,1254.9 1833.3,1255.6 1837.6,1256.3 1841.8,1257.0 1846.5,1258.8 1851.2,1260.5 1855.1,1262.7 1859.1,1264.9 1863.0,1267.1 1867.7,1267.2 1872.5,1267.3 1877.2,1267.5 1881.9,1267.6 1889.0,1270.7 1893.1,1270.7 1897.2,1270.7 1901.4,1270.7 1905.5,1270.7 1909.6,1270.7 1913.8,1270.7 1917.9,1270.7 1922.0,1270.7 1926.1,1270.7 1930.2,1270.7 1934.4,1270.7 1938.5,1270.7 1940.5,1270.4 1943.3,1273.5 1946.1,1276.5 1951.8,1276.7 1957.4,1276.9 1963.1,1271.8 1967.8,1269.4 1972.5,1267.1 1976.8,1267.0 1981.0,1266.9 1985.3,1266.8 1989.5,1266.7 1993.3,1263.7 1997.6,1263.7 2001.9,1263.7 2006.2,1263.7 2010.6,1263.7 2014.9,1263.7 2019.2,1263.7 2023.5,1263.7 2027.2,1267.1 2031.6,1267.1 2036.0,1267.1 2040.4,1267.1 2044.8,1267.1 2049.2,1267.1 2053.6,1267.1"/></g>
<g stroke="#00ff00"><polyline points="158.3,1236.2 162.3,1236.1 166.3,1236.0 170.3,1235.9 174.3,1235.8 178.3,1235.7 183.0,1234.5 187.7,1233.3 192.4,1232.2 197.1,1231.0 201.0,1230.0 205.0,1229.0 208.9,1228.0 212.8,1227.1 216.8,1226.1 220.7,1225.1 224.6,1223.8 228.6,1222.5 232.5,1221.2 236.4,1220.0 240.4,1218.7 244.3,1217.4 248.2,1216.2 252.2,1215.0 256.1,1213.8 260.0,1212.7 264.0,1211.5 267.9,1210.3 271.8,1209.1 275.7,1207.9 279.6,1206.8 283.6,1205.6 287.5,1204.4 291.4,1203.2 295.3,1202.1 299.3,1201.1 303.2,1200.0 307.1,1198.9 311.1,1197.9 315.0,1196.8 318.9,1196.0 322.9,1195.2 326.8,1194.4 330.7,1193.7 334.7,1192.9 338.6,1192.1 342.7,1190.3 346.8,1188.6 351.0,1186.8 355.1,1185.1 359.2,1182.7 363.3,1180.3 367.4,1178.0 371.5,1175.6 375.0,1172.4 378.5,1169.2 382.0,1165.9 385.4,1162.7 390.1,1157.8 392.4,1154.0 394.5,1150.2 396.9,1146.5 399.3,1142.7 401.7,1138.9 404.6,1135.6 407.5,1132.3 410.4,1129.0 413.1,1125.7 415.8,1122.4 417.5,1118.6 419.3,1114.8 421.1,1111.1 423.0,1107.3 424.9,1103.5 427.3,1098.8 429.6,1094.1 431.9,1089.4 433.2,1085.6 434.6,1081.8 436.0,1078.1 437.5,1074.3 439.0,1070.5 441.4,1065.8 443.9,1061.1 446.4,1056.4 450.3,1052.2 454.0,1048.1 458.6,1046.1 463.1,1044.1 466.4,1046.6 469.5,1049.2 472.8,1051.7 475.0,1055.0 477.2,1058.3 479.5,1061.6 481.9,1064.9 484.3,1068.2 487.3,1071.7 490.2,1075.2 493.3,1078.8 496.3,1082.3 500.2,1085.8 504.1,1089.4 507.9,1092.9 510.1,1097.2 512.2,1101.6 514.5,1105.9 516.2,1110.0 517.9,1114.2 519.9,1118.3 521.9,1122.4 525.2,1125.7 528.7,1129.0 531.9,1132.3 536.6,1132.5 541.3,1132.8 546.0,1133.0 550.1,1130.8 554.2,1128.7 558.4,1126.5 562.5,1124.3 566.3,1123.0 570.1,1121.7 573.8,1120.3 577.6,1119.0 581.4,1117.7 584.9,1115.7 588.4,1113.8 592.0,1111.8 595.5,1109.8 599.0,1107.9 602.6,1105.9 606.8,1103.6 611.0,1101.3 615.2,1099.1 619.4,1096.8 623.6,1094.5 627.5,1092.3 631.4,1090.2 635.3,1088.0 639.2,1085.8 643.2,1083.7 647.1,1081.5 650.8,1078.7 654.6,1075.9 658.4,1073.0 662.1,1070.2 665.9,1067.4 669.1,1064.1 672.4,1060.8 675.7,1057.5 678.9,1054.2 682.2,1050.9 685.1,1047.1 688.0,1043.2 690.9,1039.3 693.8,1035.5 697.0,1031.2 700.0,1026.9 703.1,1022.6 705.4,1018.5 707.7,1014.4 710.1,1010.2 712.5,1006.1 714.9,1002.5 717.3,999.0 719.7,995.5 722.1,991.9 724.4,988.6 726.8,985.3 729.2,982.0 731.6,978.7 734.0,975.4 737.0,971.9 739.9,968.3 743.0,964.8 746.0,961.3 749.5,958.0 753.1,954.8 756.6,951.5 760.2,948.3 765.0,944.8 769.7,941.3 773.8,941.3 778.0,941.3 782.1,941.3 786.2,941.3 790.1,944.4 793.9,947.6 797.9,950.7 800.8,953.7 803.7,956.6 806.6,959.5 809.4,962.5 812.5,966.8 815.4,971.1 818.3,975.4 819.2,980.1 820.1,984.8 821.3,989.6 822.5,994.3 823.3,998.2 824.0,1002.2 824.8,1006.1 825.6,1010.0 826.4,1014.0 827.2,1017.9 828.4,1022.6 829.6,1027.3 830.7,1032.0 831.9,1036.7 832.7,1040.6 833.4,1044.6 834.2,1048.5 835.0,1052.4 835.8,1056.4 836.6,1060.3 837.9,1064.1 839.1,1067.9 840.7,1071.8 842.3,1075.6 846.4,1079.1 850.4,1082.7 854.3,1086.2 856.5,1089.8 858.7,1093.3 861.1,1096.9 863.5,1100.4 866.5,1103.9 869.5,1107.5 872.5,1111.0 875.5,1114.5 878.4,1117.8 881.4,1121.0 884.3,1124.2 887.1,1127.5 889.4,1131.3 891.6,1135.2 894.0,1139.0 896.4,1142.8 898.8,1146.3 901.2,1149.9 903.7,1153.5 906.2,1157.0 910.2,1160.5 914.0,1164.1 917.8,1167.6 920.0,1171.9 922.3,1176.2 924.8,1180.5 927.9,1183.5 931.0,1186.4 934.0,1189.3 937.0,1192.3 941.2,1194.1 945.3,1195.8 949.5,1197.6 953.6,1199.4 957.5,1200.4 961.5,1201.4 965.4,1202.3 969.3,1203.3 973.3,1204.3 977.2,1205.3 981.5,1205.4 985.8,1205.4 990.1,1205.5 994.5,1205.5 998.8,1205.6 1003.1,1205.7 1007.4,1205.7 1011.7,1205.8 1016.0,1205.8 1020.4,1205.9 1024.7,1205.9 1029.0,1206.0 1033.7,1207.7 1038.5,1209.3 1044.4,1208.8 1050.3,1208.3 1053.7,1205.0 1057.0,1201.8 1060.5,1198.5 1064.0,1195.2 1067.5,1192.5 1071.1,1189.9 1074.7,1187.2 1078.2,1184.6 1081.8,1182.2 1085.3,1179.8 1088.8,1177.5 1092.4,1175.1 1095.9,1173.0 1099.5,1171.0 1103.0,1169.0 1106.6,1166.9 1110.5,1165.9 1114.5,1165.0 1118.4,1164.0 1124.3,1164.8 1130.2,1165.7 1134.9,1167.7 1139.6,1169.6 1144.3,1171.6 1147.3,1174.7 1150.3,1177.9 1153.4,1181.0 1157.0,1185.8 1160.6,1190.5 1164.9,1192.6 1169.0,1194.7 1172.6,1192.7 1176.1,1190.6 1179.7,1188.6 1184.1,1188.5 1188.4,1188.5 1192.8,1188.4 1197.2,1188.3 1201.6,1188.2 1205.9,1188.2 1210.3,1188.1 1215.0,1186.9 1219.7,1185.8 1224.5,1184.6 1229.2,1183.4 1233.9,1182.1 1238.6,1180.8 1243.3,1179.5 1248.0,1178.2 1252.7,1176.8 1257.5,1175.4 1262.2,1174.0 1266.9,1176.1 1271.6,1178.2 1275.6,1178.2 1279.7,1178.2 1283.7,1178.2 1287.8,1178.2 1291.8,1178.2 1295.9,1178.2 1299.9,1178.2 1303.9,1178.2 1308.0,1178.2 1312.0,1178.2 1316.1,1178.2 1320.1,1178.2 1324.2,1178.2 1328.2,1178.2 1332.9,1176.4 1337.6,1174.6 1342.3,1172.8 1346.1,1171.4 1349.9,1170.0 1353.6,1168.5 1357.4,1167.1 1361.2,1165.7 1365.3,1163.6 1369.4,1161.6 1373.6,1159.5 1377.7,1157.4 1382.4,1155.2 1387.1,1153.0 1391.8,1150.8 1396.0,1150.1 1400.3,1149.5 1404.5,1148.8 1408.8,1148.2 1413.0,1147.5 1417.7,1147.3 1422.5,1147.0 1427.2,1146.8 1431.5,1146.8 1435.8,1146.8 1440.0,1146.8 1444.3,1146.8 1448.6,1146.8 1452.9,1146.8 1457.2,1146.8 1461.5,1146.8 1465.7,1146.8 1470.0,1146.8 1474.3,1146.8 1477.8,1148.8 1481.4,1150.8 1486.1,1150.8 1490.8,1150.8 1495.6,1150.8 1500.3,1150.8 1503.8,1148.4 1507.3,1146.1 1511.2,1147.3 1515.0,1148.5 1518.9,1149.7 1522.8,1152.5 1526.7,1155.2 1530.6,1158.0 1535.3,1160.0 1540.1,1161.9 1544.8,1163.9 1549.5,1166.2 1554.1,1168.6 1558.7,1170.9 1560.8,1175.6 1562.8,1180.4 1565.2,1185.1 1567.5,1189.4 1570.2,1193.8 1572.8,1198.1 1576.8,1201.2 1580.9,1204.4 1584.8,1207.5 1588.8,1210.2 1592.7,1213.0 1596.6,1215.7 1599.5,1218.7 1602.3,1221.6 1605.3,1224.5 1608.2,1227.5 1611.1,1230.5 1614.1,1233.4 1617.0,1236.3 1620.0,1239.3 1623.2,1242.4 1626.2,1245.6 1629.3,1248.7 1631.5,1252.6 1633.6,1256.6 1635.8,1260.5 1637.3,1264.4 1638.8,1268.4 1640.5,1272.3 1643.0,1276.2 1645.6,1280.2 1648.1,1284.1 1651.3,1287.2 1654.6,1290.4 1657.8,1293.5 1662.6,1297.0 1667.4,1300.6 1672.1,1303.0 1676.8,1305.3 1681.5,1307.7 1686.2,1310.0 1691.0,1312.4 1695.7,1314.7 1700.4,1315.9 1705.1,1317.1 1709.8,1318.3 1714.2,1318.3 1718.7,1318.3 1723.1,1318.3 1727.5,1318.3 1731.9,1318.3 1736.3,1318.3 1740.8,1318.3 1745.2,1318.3 1748.7,1321.8 1752.2,1325.4 1758.1,1328.9 1762.2,1326.0 1766.4,1323.0 1773.5,1321.3 1778.2,1321.5 1782.9,1321.6 1787.6,1321.8 1791.5,1323.4 1795.5,1324.9 1799.4,1326.5 1803.5,1327.7 1807.6,1328.8 1811.8,1330.0 1815.9,1331.2 1820.6,1332.1 1825.3,1333.0 1830.0,1333.9 1834.7,1334.8 1839.4,1335.6 1844.1,1336.4 1848.9,1337.2 1853.6,1338.0 1858.3,1338.8 1862.4,1338.8 1866.5,1338.8 1870.6,1338.8 1874.7,1338.9 1878.8,1338.9 1883.0,1338.9 1887.1,1338.9 1891.2,1338.9 1895.3,1338.9 1899.4,1338.9 1903.5,1339.0 1907.6,1339.0 1911.7,1339.0 1915.8,1339.0 1920.0,1339.0 1924.1,1339.0 1928.2,1339.1 1932.3,1339.1 1936.4,1339.1 1940.5,1339.1 1944.2,1342.5 1948.6,1342.5 1953.0,1342.5 1957.4,1342.5 1963.1,1339.1 1966.9,1337.5 1970.7,1335.9 1975.2,1335.8 1979.7,1335.7 1984.3,1335.5 1988.8,1335.4 1993.3,1335.3 1995.2,1332.1 1999.4,1332.1 2003.5,1332.1 2007.7,1332.1 2011.9,1332.1 2016.1,1332.1 2020.2,1332.1 2024.4,1332.1 2028.6,1332.1 2032.7,1332.1 2036.9,1332.1 2041.1,1332.1 2045.3,1332.1 2049.4,1332.1 2053.6,1332.1"/><polyline points="158.3,1236.2 162.3,1236.1 166.3,1236.0 170.3,1235.9 174.3,1235.8 178.3,1235.7 183.0,1234.5 187.7,1233.3 192.4,1232.2 197.1,1231.0 201.0,1230.0 205.0,1229.0 208.9,1228.0 212.8,1227.1 216.8,1226.1 220.7,1225.1 224.6,1223.8 228.6,1222.5 232.5,1221.2 236.4,1220.0 240.4,1218.7 244.3,1217.4 248.2,1216.2 252.2,1215.0 256.1,1213.8 260.0,1212.7 264.0,1211.5 267.9,1210.3 271.8,1209.1 275.7,1207.9 279.7,1206.8 283.6,1205.6 287.5,1204.4 291.4,1203.2 295.3,1202.1 299.3,1201.1 303.2,1200.0 307.1,1198.9 311.1,1197.9 315.0,1196.8 318.9,1196.0 322.9,1195.2 326.8,1194.4 330.7,1193.7 334.7,1192.9 338.6,1192.1 342.7,1190.3 346.9,1188.6 351.0,1186.8 355.1,1185.1 359.2,1182.7 363.4,1180.3 367.5,1178.0 371.7,1175.6 375.2,1172.4 378.8,1169.2 382.4,1165.9 386.0,1162.7 390.9,1157.8 393.3,1154.0 395.8,1150.2 398.2,1146.5 400.4,1142.7 402.7,1138.9 405.4,1135.6 408.2,1132.3 411.1,1129.0 414.0,1125.7 417.0,1122.4 419.0,1118.6 421.1,1114.8 422.9,1111.1 424.8,1107.3 426.7,1103.5 429.1,1098.8 431.5,1094.1 433.9,1089.4 435.4,1085.6 436.9,1081.8 438.3,1078.1 439.7,1074.3 441.0,1070.5 443.3,1065.8 445.4,1061.1 447.6,1056.4 450.8,1052.2 454.2,1048.1 458.6,1046.1 463.1,1044.1 466.4,1046.6 469.9,1049.2 473.2,1051.7 475.7,1055.0 478.2,1058.3 480.5,1061.6 482.8,1064.9 485.1,1068.2 488.0,1071.7 491.0,1075.2 493.8,1078.8 496.7,1082.3 500.6,1085.8 504.6,1089.4 508.7,1092.9 511.2,1097.2 513.9,1101.6 516.3,1105.9 518.2,1110.0 520.0,1114.2 521.5,1118.3 523.1,1122.4 526.0,1125.7 528.8,1129.0 531.9,1132.3 536.6,1132.5 541.3,1132.8 546.0,1133.0 550.1,1130.8 554.3,1128.7 558.4,1126.5 562.5,1124.3 566.3,1123.0 570.1,1121.7 573.8,1120.3 577.6,1119.0 581.4,1117.7 584.9,1115.7 588.5,1113.8 592.0,1111.8 595.6,1109.8 599.1,1107.9 602.6,1105.9 606.8,1103.6 611.0,1101.3 615.2,1099.1 619.4,1096.8 623.6,1094.5 627.5,1092.3 631.5,1090.2 635.4,1088.0 639.3,1085.8 643.2,1083.7 647.1,1081.5 650.9,1078.7 654.7,1075.9 658.5,1073.0 662.3,1070.2 666.1,1067.4 669.5,1064.1 672.8,1060.8 676.1,1057.5 679.5,1054.2 682.8,1050.9 685.8,1047.1 688.8,1043.2 691.8,1039.3 694.8,1035.5 697.9,1031.2 701.1,1026.9 704.3,1022.6 706.7,1018.5 709.2,1014.4 711.5,1010.2 713.9,1006.1 716.2,1002.5 718.5,999.0 720.8,995.5 723.1,991.9 725.5,988.6 727.8,985.3 730.2,982.0 732.5,978.7 734.8,975.4 737.7,971.9 740.7,968.3 743.5,964.8 746.4,961.3 749.9,958.0 753.4,954.8 756.9,951.5 760.4,948.3 765.0,944.8 769.7,941.3 773.8,941.3 778.0,941.3 782.1,941.3 786.2,941.3 790.2,944.4 794.2,947.6 798.1,950.7 801.1,953.7 804.1,956.6 807.1,959.5 810.2,962.5 813.4,966.8 816.8,971.1 820.1,975.4 821.6,980.1 823.1,984.8 824.3,989.6 825.5,994.3 826.3,998.2 827.1,1002.2 827.9,1006.1 828.7,1010.0 829.4,1014.0 830.2,1017.9 831.4,1022.6 832.5,1027.3 833.7,1032.0 834.9,1036.7 835.7,1040.6 836.5,1044.6 837.3,1048.5 838.1,1052.4 838.8,1056.4 839.6,1060.3 840.7,1064.1 841.8,1067.9 842.5,1071.8 843.3,1075.6 847.0,1079.1 850.9,1082.7 854.9,1086.2 857.4,1089.8 859.9,1093.3 862.2,1096.9 864.5,1100.4 867.4,1103.9 870.3,1107.5 873.2,1111.0 876.1,1114.5 879.1,1117.8 882.0,1121.0 885.0,1124.2 888.1,1127.5 890.5,1131.3 893.0,1135.2 895.3,1139.0 897.6,1142.8 900.0,1146.3 902.3,1149.9 904.5,1153.5 906.8,1157.0 910.6,1160.5 914.6,1164.1 918.6,1167.6 921.1,1171.9 923.6,1176.2 925.8,1180.5 928.6,1183.5 931.4,1186.4 934.3,1189.3 937.2,1192.3 941.2,1194.1 945.4,1195.8 949.5,1197.6 953.6,1199.4 957.5,1200.4 961.5,1201.4 965.4,1202.3 969.3,1203.3 973.3,1204.3 977.2,1205.3 981.5,1205.4 985.8,1205.4 990.2,1205.5 994.5,1205.5 998.8,1205.6 1003.1,1205.7 1007.4,1205.7 1011.7,1205.8 1016.1,1205.8 1020.4,1205.9 1024.7,1205.9 1029.0,1206.0 1033.8,1207.7 1038.5,1209.3 1044.4,1208.8 1050.3,1208.3 1053.8,1205.0 1057.4,1201.8 1060.8,1198.5 1064.2,1195.2 1067.8,1192.5 1071.3,1189.9 1074.8,1187.2 1078.4,1184.6 1081.9,1182.2 1085.4,1179.8 1088.9,1177.5 1092.4,1175.1 1096.0,1173.0 1099.5,1171.0 1103.1,1169.0 1106.6,1166.9 1110.5,1165.9 1114.5,1165.0 1118.4,1164.0 1124.3,1164.8 1130.2,1165.7 1134.9,1167.7 1139.6,1169.6 1144.3,1171.6 1147.5,1174.7 1150.8,1177.9 1154.0,1181.0 1157.5,1185.8 1161.0,1190.5 1164.9,1192.6 1169.0,1194.7 1172.6,1192.7 1176.1,1190.6 1179.7,1188.6 1184.1,1188.5 1188.4,1188.5 1192.8,1188.4 1197.2,1188.3 1201.6,1188.2 1205.9,1188.2 1210.3,1188.1 1215.0,1186.9 1219.8,1185.8 1224.5,1184.6 1229.2,1183.4 1233.9,1182.1 1238.6,1180.8 1243.3,1179.5 1248.0,1178.2 1252.7,1176.8 1257.5,1175.4 1262.2,1174.0 1266.9,1176.1 1271.6,1178.2 1275.6,1178.2 1279.7,1178.2 1283.7,1178.2 1287.8,1178.2 1291.8,1178.2 1295.9,1178.2 1299.9,1178.2 1303.9,1178.2 1308.0,1178.2 1312.0,1178.2 1316.1,1178.2 1320.1,1178.2 1324.2,1178.2 1328.2,1178.2 1332.9,1176.4 1337.6,1174.6 1342.3,1172.8 1346.1,1171.4 1349.9,1170.0 1353.6,1168.5 1357.4,1167.1 1361.2,1165.7 1365.3,1163.6 1369.5,1161.6 1373.6,1159.5 1377.7,1157.4 1382.4,1155.2 1387.1,1153.0 1391.8,1150.8 1396.0,1150.1 1400.3,1149.5 1404.5,1148.8 1408.8,1148.2 1413.0,1147.5 1417.7,1147.3 1422.5,1147.0 1427.2,1146.8 1431.5,1146.8 1435.8,1146.8 1440.0,1146.8 1444.3,1146.8 1448.6,1146.8 1452.9,1146.8 1457.2,1146.8 1461.5,1146.8 1465.7,1146.8 1470.0,1146.8 1474.3,1146.8 1477.9,1148.8 1481.4,1150.8 1486.1,1150.8 1490.8,1150.8 1495.6,1150.8 1500.3,1150.8 1503.8,1148.4 1507.3,1146.1 1511.2,1147.3 1515.0,1148.5 1518.9,1149.7 1522.8,1152.5 1526.7,1155.2 1530.6,1158.0 1535.3,1160.0 1540.1,1161.9 1544.8,1163.9 1549.5,1166.2 1554.3,1168.6 1559.1,1170.9 1561.8,1175.6 1564.5,1180.4 1566.8,1185.1 1569.2,1189.4 1571.3,1193.8 1573.4,1198.1 1577.2,1201.2 1581.1,1204.4 1585.0,1207.5 1588.9,1210.2 1592.9,1213.0 1596.8,1215.7 1599.8,1218.7 1602.8,1221.6 1605.7,1224.5 1608.6,1227.5 1611.6,1230.5 1614.5,1233.4 1617.5,1236.3 1620.4,1239.3 1623.6,1242.4 1626.8,1245.6 1630.1,1248.7 1632.6,1252.6 1635.2,1256.6 1637.6,1260.5 1639.3,1264.4 1640.8,1268.4 1642.3,1272.3 1644.6,1276.2 1646.7,1280.2 1648.9,1284.1 1651.9,1287.2 1654.9,1290.4 1658.0,1293.5 1662.7,1297.0 1667.4,1300.6 1672.1,1303.0 1676.8,1305.3 1681.5,1307.7 1686.2,1310.0 1691.0,1312.4 1695.7,1314.7 1700.4,1315.9 1705.1,1317.1 1709.8,1318.3 1714.2,1318.3 1718.7,1318.3 1723.1,1318.3 1727.5,1318.3 1731.9,1318.3 1736.3,1318.3 1740.8,1318.3 1745.2,1318.3 1748.7,1321.8 1752.2,1325.4 1758.1,1328.9 1762.3,1326.0 1766.4,1323.0 1773.5,1321.3 1778.2,1321.5 1782.9,1321.6 1787.6,1321.8 1791.5,1323.4 1795.5,1324.9 1799.4,1326.5 1803.5,1327.7 1807.7,1328.8 1811.8,1330.0 1815.9,1331.2 1820.6,1332.1 1825.3,1333.0 1830.0,1333.9 1834.7,1334.8 1839.4,1335.6 1844.1,1336.4 1848.9,1337.2 1853.6,1338.0 1858.3,1338.8 1862.4,1338.8 1866.5,1338.8 1870.6,1338.8 1874.7,1338.9 1878.8,1338.9 1883.0,1338.9 1887.1,1338.9 1891.2,1338.9 1895.3,1338.9 1899.4,1338.9 1903.5,1339.0 1907.6,1339.0 1911.7,1339.0 1915.8,1339.0 1920.0,1339.0 1924.1,1339.0 1928.2,1339.1 1932.3,1339.1 1936.4,1339.1 1940.5,1339.1 1944.2,1342.5 1948.6,1342.5 1953.0,1342.5 1957.4,1342.5 1963.1,1339.1 1966.9,1337.5 1970.7,1335.9 1975.2,1335.8 1979.7,1335.7 1984.3,1335.5 1988.8,1335.4 1993.3,1335.3 1995.2,1332.1 1999.4,1332.1 2003.5,1332.1 2007.7,1332.1 2011.9,1332.1 2016.1,1332.1 2020.2,1332.1 2024.4,1332.1 2028.6,1332.1 2032.7,1332.1 2036.9,1332.1 2041.1,1332.1 2045.3,1332.1 2049.4,1332.1 2053.6,1332.1"/></g>
</g>
<line x1="786.8" y1="460.0" x2="881.3" y2="386.3" stroke="#000" stroke-width="5.2"/><polygon points="912.8,361.7 885.8,398.6 870.4,378.9" fill="#000"/>
<line x1="808.5" y1="565.5" x2="890.2" y2="499.0" stroke="#000" stroke-width="3.3" stroke-dasharray="3.5 2.3"/><polygon points="919.7,475.0 894.1,510.0 880.2,493.0" fill="#000"/>
<line x1="903.0" y1="647.6" x2="988.4" y2="577.8" stroke="#000" stroke-width="3.3" stroke-dasharray="3.5 2.3"/><polygon points="1017.8,553.8 992.2,588.9 978.3,571.9" fill="#000"/>
<line x1="791.5" y1="933.0" x2="908.4" y2="835.4" stroke="#000" stroke-width="3.3" stroke-dasharray="3.5 2.3"/><polygon points="937.6,811.0 912.4,846.4 898.3,829.5" fill="#000"/>
<line x1="815.0" y1="1036.0" x2="894.0" y2="972.1" stroke="#000" stroke-width="3.3" stroke-dasharray="3.5 2.3"/><polygon points="923.5,948.2 897.8,983.2 883.9,966.1" fill="#000"/>
<line x1="865.0" y1="1211.0" x2="963.6" y2="1130.1" stroke="#000" stroke-width="3.3" stroke-dasharray="3.5 2.3"/><polygon points="993.0,1106.0 967.5,1141.1 953.6,1124.1" fill="#000"/>
<g stroke="#000" stroke-width="6.5">
<line x1="790" y1="1463" x2="790" y2="1491"/>
<line x1="1425" y1="1463" x2="1425" y2="1491"/>
<line x1="474" y1="1476.5" x2="474" y2="1491"/>
<line x1="1106" y1="1476.5" x2="1106" y2="1491"/>
<line x1="1741" y1="1476.5" x2="1741" y2="1491"/>
</g>
<rect x="158.5" y="49.5" width="1899" height="1444" fill="none" stroke="#000" stroke-width="7"/>
<text transform="matrix(0.8422 0 0 0.6273 73.42 1571.77)" font-size="100" fill="#000" stroke="#fefefe" stroke-width="1.2" stroke-linejoin="round">1400</text>
<text transform="matrix(0.8198 0 0 0.6273 708.92 1571.77)" font-size="100" fill="#000" stroke="#fefefe" stroke-width="1.2" stroke-linejoin="round">1500</text>
<text transform="matrix(0.8139 0 0 0.6273 1341.17 1571.77)" font-size="100" fill="#000" stroke="#fefefe" stroke-width="1.2" stroke-linejoin="round">1600</text>
<text transform="matrix(0.8134 0 0 0.6273 1973.08 1571.77)" font-size="100" fill="#000" stroke="#fefefe" stroke-width="1.2" stroke-linejoin="round">1700</text>
<text transform="matrix(1.0679 0 0 0.8250 914.36 345.30)" font-size="100" fill="#00ff00" stroke="#fefefe" stroke-width="1.2" stroke-linejoin="round">(3)</text>
<text transform="matrix(1.0943 0 0 0.8182 928.43 465.24)" font-size="100" fill="#ff0000" stroke="#fefefe" stroke-width="1.2" stroke-linejoin="round">(2)</text>
<text transform="matrix(1.0689 0 0 0.8136 1023.66 544.13)" font-size="100" fill="#0000ff" stroke="#fefefe" stroke-width="1.2" stroke-linejoin="round">(1)</text>
<text transform="matrix(1.0821 0 0 0.8170 1886.39 554.36)" font-size="100" fill="#000" stroke="#fefefe" stroke-width="1.2" stroke-linejoin="round">(b)</text>
<text transform="matrix(1.0717 0 0 0.8182 942.24 797.94)" font-size="100" fill="#00ff00" stroke="#fefefe" stroke-width="1.2" stroke-linejoin="round">(3)</text>
<text transform="matrix(1.0670 0 0 0.8205 935.17 935.19)" font-size="100" fill="#ff0000" stroke="#fefefe" stroke-width="1.2" stroke-linejoin="round">(2)</text>
<text transform="matrix(1.0755 0 0 0.8205 995.42 1079.59)" font-size="100" fill="#0000ff" stroke="#fefefe" stroke-width="1.2" stroke-linejoin="round">(1)</text>
<text transform="matrix(1.0906 0 0 0.8159 1886.35 1106.48)" font-size="100" fill="#000" stroke="#fefefe" stroke-width="1.2" stroke-linejoin="round">(a)</text>
<text transform="matrix(0.9485 0 0 0.8102 697.10 1703.50)" font-size="100" fill="#000" stroke="#fefefe" stroke-width="1.2" stroke-linejoin="round">Wavenumber (cm</text>
<text transform="matrix(0.7548 0 0 0.5828 1415.68 1658.58)" font-size="100" fill="#000" stroke="#fefefe" stroke-width="1.2" stroke-linejoin="round">-1</text>
<text transform="matrix(1.3583 0 0 0.8102 1472.57 1703.50)" font-size="100" fill="#000" stroke="#fefefe" stroke-width="1.2" stroke-linejoin="round">)</text>
<text transform="matrix(0 -0.9496 0.7971 0 89.20 1059.40)" font-size="100" letter-spacing="-8.8" fill="#000" stroke="#fefefe" stroke-width="1.2" stroke-linejoin="round">Absorbance</text>
<text transform="matrix(0 -0.9525 0.8386 0 92.03 640.16)" font-size="100" letter-spacing="-6.51" fill="#000" stroke="#fefefe" stroke-width="1.2" stroke-linejoin="round">(a.u.)</text>
</svg>
</body></html>
